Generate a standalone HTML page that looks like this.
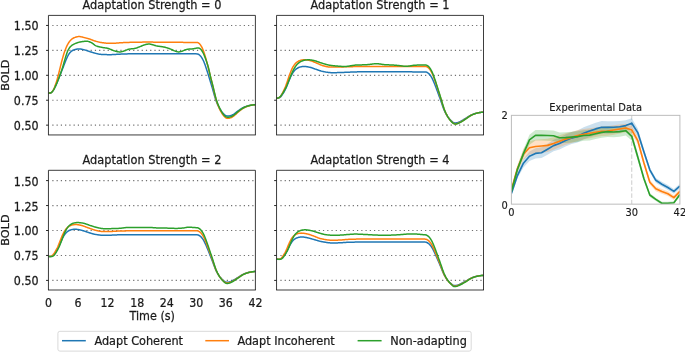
<!DOCTYPE html>
<html lang="en"><head><meta charset="utf-8"><title>BOLD adaptation figure</title>
<style>
html,body{margin:0;padding:0;background:#fff;}
body{width:685px;height:352px;overflow:hidden;}
svg{display:block;}
text{white-space:pre;stroke:#1a1a1a;stroke-width:0.25px;}
.inset text{stroke-width:0.15px;}
</style></head><body>
<svg width="685" height="352" viewBox="0 0 685 352" font-family='"DejaVu Sans", "Liberation Sans", sans-serif' font-size="11.35" fill="#1a1a1a">
<rect width="685" height="352" fill="#fff"/>
<clipPath id="c0"><rect x="48.45" y="15.4" width="206.95" height="119.5"/></clipPath>
<line x1="52.30" y1="125.15" x2="255.40" y2="125.15" stroke="#707070" stroke-width="1.15" stroke-dasharray="1.2 3.055"/>
<line x1="46.05" y1="125.15" x2="48.45" y2="125.15" stroke="#1a1a1a" stroke-width="0.95"/>
<text transform="translate(38.55 130.10) scale(0.9258 1)" font-size="12.0" text-anchor="end">0.50</text>
<line x1="52.30" y1="100.23" x2="255.40" y2="100.23" stroke="#707070" stroke-width="1.15" stroke-dasharray="1.2 3.055"/>
<line x1="46.05" y1="100.23" x2="48.45" y2="100.23" stroke="#1a1a1a" stroke-width="0.95"/>
<text transform="translate(38.55 105.18) scale(0.9258 1)" font-size="12.0" text-anchor="end">0.75</text>
<line x1="52.30" y1="75.30" x2="255.40" y2="75.30" stroke="#707070" stroke-width="1.15" stroke-dasharray="1.2 3.055"/>
<line x1="46.05" y1="75.30" x2="48.45" y2="75.30" stroke="#1a1a1a" stroke-width="0.95"/>
<text transform="translate(38.55 80.25) scale(0.9258 1)" font-size="12.0" text-anchor="end">1.00</text>
<line x1="52.30" y1="50.38" x2="255.40" y2="50.38" stroke="#707070" stroke-width="1.15" stroke-dasharray="1.2 3.055"/>
<line x1="46.05" y1="50.38" x2="48.45" y2="50.38" stroke="#1a1a1a" stroke-width="0.95"/>
<text transform="translate(38.55 55.33) scale(0.9258 1)" font-size="12.0" text-anchor="end">1.25</text>
<line x1="52.30" y1="25.45" x2="255.40" y2="25.45" stroke="#707070" stroke-width="1.15" stroke-dasharray="1.2 3.055"/>
<line x1="46.05" y1="25.45" x2="48.45" y2="25.45" stroke="#1a1a1a" stroke-width="0.95"/>
<text transform="translate(38.55 30.40) scale(0.9258 1)" font-size="12.0" text-anchor="end">1.50</text>
<g clip-path="url(#c0)" fill="none" stroke-width="1.5" stroke-linejoin="round" stroke-linecap="butt">
<path d="M48.45,93.15 L48.94,93.12 L49.44,93.09 L49.93,93.04 L50.42,92.95 L50.91,92.78 L51.41,92.50 L51.90,92.09 L52.39,91.54 L52.88,90.90 L53.38,90.16 L53.87,89.35 L54.36,88.46 L54.86,87.48 L55.35,86.44 L55.84,85.36 L56.33,84.24 L56.83,83.09 L57.32,81.90 L57.81,80.69 L58.30,79.45 L58.80,78.19 L59.29,76.94 L59.78,75.69 L60.28,74.45 L60.77,73.22 L61.26,72.00 L61.75,70.78 L62.25,69.55 L62.74,68.33 L63.23,67.10 L63.72,65.85 L64.22,64.59 L64.71,63.32 L65.20,62.05 L65.70,60.80 L66.19,59.58 L66.68,58.42 L67.17,57.31 L67.67,56.27 L68.16,55.31 L68.65,54.45 L69.15,53.71 L69.64,53.06 L70.13,52.48 L70.62,51.97 L71.12,51.51 L71.61,51.11 L72.10,50.76 L72.59,50.47 L73.09,50.23 L73.58,50.02 L74.07,49.85 L74.57,49.68 L75.06,49.54 L75.55,49.40 L76.04,49.28 L76.54,49.17 L77.03,49.08 L77.52,49.01 L78.01,48.95 L78.51,48.92 L79.00,48.91 L79.49,48.92 L79.99,48.96 L80.48,49.02 L80.97,49.09 L81.46,49.18 L81.96,49.29 L82.45,49.40 L82.94,49.52 L83.43,49.64 L83.93,49.76 L84.42,49.88 L84.91,50.01 L85.41,50.15 L85.90,50.29 L86.39,50.45 L86.88,50.61 L87.38,50.77 L87.87,50.94 L88.36,51.11 L88.85,51.28 L89.35,51.45 L89.84,51.61 L90.33,51.77 L90.83,51.92 L91.32,52.08 L91.81,52.23 L92.30,52.38 L92.80,52.54 L93.29,52.68 L93.78,52.83 L94.27,52.97 L94.77,53.11 L95.26,53.24 L95.75,53.36 L96.25,53.49 L96.74,53.61 L97.23,53.73 L97.72,53.85 L98.22,53.96 L98.71,54.07 L99.20,54.16 L99.69,54.24 L100.19,54.30 L100.68,54.35 L101.17,54.39 L101.67,54.42 L102.16,54.44 L102.65,54.47 L103.14,54.49 L103.64,54.51 L104.13,54.54 L104.62,54.55 L105.11,54.57 L105.61,54.59 L106.10,54.60 L106.59,54.62 L107.09,54.63 L107.58,54.64 L108.07,54.65 L108.56,54.65 L109.06,54.66 L109.55,54.66 L110.04,54.66 L110.53,54.65 L111.03,54.65 L111.52,54.63 L112.01,54.62 L112.51,54.60 L113.00,54.58 L113.49,54.55 L113.98,54.52 L114.48,54.49 L114.97,54.46 L115.46,54.43 L115.96,54.40 L116.45,54.36 L116.94,54.33 L117.43,54.30 L117.93,54.27 L118.42,54.24 L118.91,54.21 L119.40,54.19 L119.90,54.17 L120.39,54.14 L120.88,54.12 L121.38,54.10 L121.87,54.08 L122.36,54.06 L122.85,54.04 L123.35,54.02 L123.84,54.00 L124.33,53.99 L124.82,53.97 L125.32,53.95 L125.81,53.93 L126.30,53.91 L126.80,53.90 L127.29,53.88 L127.78,53.86 L128.27,53.85 L128.77,53.83 L129.26,53.82 L129.75,53.81 L130.24,53.80 L130.74,53.79 L131.23,53.78 L131.72,53.77 L132.22,53.77 L132.71,53.76 L133.20,53.75 L133.69,53.75 L134.19,53.74 L134.68,53.74 L135.17,53.73 L135.66,53.73 L136.16,53.72 L136.65,53.72 L137.14,53.71 L137.64,53.71 L138.13,53.71 L138.62,53.70 L139.11,53.70 L139.61,53.69 L140.10,53.69 L140.59,53.69 L141.08,53.68 L141.58,53.68 L142.07,53.68 L142.56,53.68 L143.06,53.67 L143.55,53.67 L144.04,53.67 L144.53,53.67 L145.03,53.67 L145.52,53.67 L146.01,53.67 L146.50,53.67 L147.00,53.67 L147.49,53.67 L147.98,53.67 L148.48,53.67 L148.97,53.67 L149.46,53.67 L149.95,53.67 L150.45,53.67 L150.94,53.67 L151.43,53.67 L151.93,53.67 L152.42,53.67 L152.91,53.67 L153.40,53.68 L153.90,53.68 L154.39,53.68 L154.88,53.68 L155.37,53.68 L155.87,53.69 L156.36,53.69 L156.85,53.69 L157.35,53.69 L157.84,53.69 L158.33,53.70 L158.82,53.70 L159.32,53.70 L159.81,53.70 L160.30,53.71 L160.79,53.71 L161.29,53.71 L161.78,53.71 L162.27,53.72 L162.77,53.72 L163.26,53.72 L163.75,53.72 L164.24,53.73 L164.74,53.73 L165.23,53.73 L165.72,53.73 L166.21,53.74 L166.71,53.74 L167.20,53.74 L167.69,53.75 L168.19,53.75 L168.68,53.75 L169.17,53.75 L169.66,53.76 L170.16,53.76 L170.65,53.76 L171.14,53.76 L171.63,53.76 L172.13,53.77 L172.62,53.77 L173.11,53.77 L173.61,53.77 L174.10,53.78 L174.59,53.78 L175.08,53.78 L175.58,53.79 L176.07,53.79 L176.56,53.79 L177.05,53.80 L177.55,53.80 L178.04,53.80 L178.53,53.81 L179.03,53.81 L179.52,53.81 L180.01,53.82 L180.50,53.82 L181.00,53.82 L181.49,53.83 L181.98,53.83 L182.47,53.83 L182.97,53.83 L183.46,53.84 L183.95,53.84 L184.45,53.84 L184.94,53.85 L185.43,53.85 L185.92,53.85 L186.42,53.85 L186.91,53.85 L187.40,53.86 L187.89,53.86 L188.39,53.86 L188.88,53.86 L189.37,53.86 L189.87,53.86 L190.36,53.86 L190.85,53.86 L191.34,53.86 L191.84,53.86 L192.33,53.86 L192.82,53.86 L193.31,53.86 L193.81,53.86 L194.30,53.86 L194.79,53.86 L195.29,53.86 L195.78,53.87 L196.27,53.87 L196.76,53.88 L197.26,53.92 L197.75,54.02 L198.24,54.19 L198.74,54.46 L199.23,54.80 L199.72,55.22 L200.21,55.69 L200.71,56.24 L201.20,56.87 L201.69,57.58 L202.18,58.38 L202.68,59.26 L203.17,60.23 L203.66,61.29 L204.16,62.47 L204.65,63.73 L205.14,65.08 L205.63,66.49 L206.13,67.93 L206.62,69.42 L207.11,70.95 L207.60,72.52 L208.10,74.11 L208.59,75.73 L209.08,77.35 L209.58,78.97 L210.07,80.59 L210.56,82.22 L211.05,83.85 L211.55,85.49 L212.04,87.14 L212.53,88.81 L213.02,90.52 L213.52,92.25 L214.01,94.00 L214.50,95.72 L215.00,97.39 L215.49,98.97 L215.98,100.43 L216.47,101.77 L216.97,103.00 L217.46,104.14 L217.95,105.21 L218.44,106.23 L218.94,107.18 L219.43,108.09 L219.92,108.94 L220.42,109.74 L220.91,110.50 L221.40,111.21 L221.89,111.89 L222.39,112.52 L222.88,113.10 L223.37,113.64 L223.86,114.13 L224.36,114.58 L224.85,114.98 L225.34,115.32 L225.84,115.59 L226.33,115.80 L226.82,115.96 L227.31,116.06 L227.81,116.10 L228.30,116.09 L228.79,116.04 L229.28,115.95 L229.78,115.84 L230.27,115.71 L230.76,115.55 L231.26,115.37 L231.75,115.16 L232.24,114.94 L232.73,114.69 L233.23,114.43 L233.72,114.13 L234.21,113.81 L234.70,113.47 L235.20,113.11 L235.69,112.73 L236.18,112.35 L236.68,111.97 L237.17,111.59 L237.66,111.22 L238.15,110.87 L238.65,110.52 L239.14,110.17 L239.63,109.83 L240.13,109.49 L240.62,109.15 L241.11,108.83 L241.60,108.52 L242.10,108.23 L242.59,107.95 L243.08,107.70 L243.57,107.46 L244.07,107.24 L244.56,107.03 L245.05,106.83 L245.55,106.63 L246.04,106.45 L246.53,106.28 L247.02,106.12 L247.52,105.98 L248.01,105.84 L248.50,105.71 L248.99,105.59 L249.49,105.48 L249.98,105.37 L250.47,105.28 L250.97,105.19 L251.46,105.10 L251.95,105.02 L252.44,104.95 L252.94,104.88 L253.43,104.82 L253.92,104.76 L254.41,104.71 L254.91,104.66 L255.40,104.61" stroke="#1f77b4"/>
<path d="M48.45,93.15 L48.94,93.12 L49.44,93.08 L49.93,93.02 L50.42,92.91 L50.91,92.72 L51.41,92.42 L51.90,91.97 L52.39,91.37 L52.88,90.64 L53.38,89.80 L53.87,88.82 L54.36,87.71 L54.86,86.47 L55.35,85.12 L55.84,83.68 L56.33,82.15 L56.83,80.54 L57.32,78.84 L57.81,77.05 L58.30,75.17 L58.80,73.21 L59.29,71.20 L59.78,69.18 L60.28,67.16 L60.77,65.17 L61.26,63.21 L61.75,61.30 L62.25,59.44 L62.74,57.66 L63.23,55.96 L63.72,54.34 L64.22,52.80 L64.71,51.34 L65.20,49.97 L65.70,48.68 L66.19,47.49 L66.68,46.39 L67.17,45.36 L67.67,44.41 L68.16,43.53 L68.65,42.74 L69.15,42.02 L69.64,41.37 L70.13,40.78 L70.62,40.24 L71.12,39.74 L71.61,39.29 L72.10,38.89 L72.59,38.55 L73.09,38.26 L73.58,38.01 L74.07,37.79 L74.57,37.58 L75.06,37.39 L75.55,37.21 L76.04,37.05 L76.54,36.91 L77.03,36.79 L77.52,36.69 L78.01,36.62 L78.51,36.57 L79.00,36.56 L79.49,36.57 L79.99,36.61 L80.48,36.67 L80.97,36.76 L81.46,36.86 L81.96,36.98 L82.45,37.10 L82.94,37.23 L83.43,37.36 L83.93,37.49 L84.42,37.61 L84.91,37.73 L85.41,37.86 L85.90,37.99 L86.39,38.12 L86.88,38.26 L87.38,38.40 L87.87,38.54 L88.36,38.69 L88.85,38.84 L89.35,39.00 L89.84,39.16 L90.33,39.33 L90.83,39.51 L91.32,39.70 L91.81,39.88 L92.30,40.07 L92.80,40.26 L93.29,40.44 L93.78,40.61 L94.27,40.78 L94.77,40.94 L95.26,41.09 L95.75,41.24 L96.25,41.38 L96.74,41.51 L97.23,41.64 L97.72,41.77 L98.22,41.89 L98.71,42.00 L99.20,42.11 L99.69,42.21 L100.19,42.31 L100.68,42.39 L101.17,42.48 L101.67,42.56 L102.16,42.64 L102.65,42.71 L103.14,42.79 L103.64,42.86 L104.13,42.93 L104.62,42.99 L105.11,43.04 L105.61,43.09 L106.10,43.13 L106.59,43.16 L107.09,43.18 L107.58,43.19 L108.07,43.19 L108.56,43.20 L109.06,43.20 L109.55,43.20 L110.04,43.20 L110.53,43.20 L111.03,43.20 L111.52,43.20 L112.01,43.20 L112.51,43.20 L113.00,43.20 L113.49,43.20 L113.98,43.20 L114.48,43.19 L114.97,43.19 L115.46,43.17 L115.96,43.15 L116.45,43.12 L116.94,43.08 L117.43,43.03 L117.93,42.98 L118.42,42.93 L118.91,42.88 L119.40,42.84 L119.90,42.80 L120.39,42.77 L120.88,42.74 L121.38,42.72 L121.87,42.69 L122.36,42.67 L122.85,42.64 L123.35,42.62 L123.84,42.59 L124.33,42.57 L124.82,42.55 L125.32,42.53 L125.81,42.50 L126.30,42.48 L126.80,42.46 L127.29,42.45 L127.78,42.43 L128.27,42.41 L128.77,42.39 L129.26,42.38 L129.75,42.36 L130.24,42.35 L130.74,42.33 L131.23,42.32 L131.72,42.31 L132.22,42.30 L132.71,42.29 L133.20,42.28 L133.69,42.27 L134.19,42.26 L134.68,42.25 L135.17,42.24 L135.66,42.23 L136.16,42.22 L136.65,42.21 L137.14,42.20 L137.64,42.19 L138.13,42.19 L138.62,42.18 L139.11,42.17 L139.61,42.16 L140.10,42.15 L140.59,42.15 L141.08,42.14 L141.58,42.14 L142.07,42.13 L142.56,42.12 L143.06,42.12 L143.55,42.12 L144.04,42.11 L144.53,42.11 L145.03,42.11 L145.52,42.10 L146.01,42.10 L146.50,42.10 L147.00,42.10 L147.49,42.10 L147.98,42.10 L148.48,42.10 L148.97,42.10 L149.46,42.10 L149.95,42.11 L150.45,42.11 L150.94,42.11 L151.43,42.11 L151.93,42.12 L152.42,42.12 L152.91,42.12 L153.40,42.13 L153.90,42.13 L154.39,42.13 L154.88,42.14 L155.37,42.14 L155.87,42.15 L156.36,42.15 L156.85,42.16 L157.35,42.16 L157.84,42.17 L158.33,42.17 L158.82,42.18 L159.32,42.18 L159.81,42.19 L160.30,42.19 L160.79,42.20 L161.29,42.20 L161.78,42.21 L162.27,42.21 L162.77,42.22 L163.26,42.22 L163.75,42.23 L164.24,42.23 L164.74,42.24 L165.23,42.24 L165.72,42.25 L166.21,42.25 L166.71,42.26 L167.20,42.26 L167.69,42.27 L168.19,42.27 L168.68,42.28 L169.17,42.28 L169.66,42.29 L170.16,42.29 L170.65,42.29 L171.14,42.30 L171.63,42.30 L172.13,42.30 L172.62,42.31 L173.11,42.31 L173.61,42.31 L174.10,42.32 L174.59,42.32 L175.08,42.32 L175.58,42.33 L176.07,42.33 L176.56,42.33 L177.05,42.34 L177.55,42.34 L178.04,42.34 L178.53,42.35 L179.03,42.35 L179.52,42.35 L180.01,42.36 L180.50,42.36 L181.00,42.36 L181.49,42.36 L181.98,42.37 L182.47,42.37 L182.97,42.37 L183.46,42.38 L183.95,42.38 L184.45,42.38 L184.94,42.38 L185.43,42.38 L185.92,42.39 L186.42,42.39 L186.91,42.39 L187.40,42.39 L187.89,42.39 L188.39,42.40 L188.88,42.40 L189.37,42.40 L189.87,42.40 L190.36,42.40 L190.85,42.40 L191.34,42.40 L191.84,42.40 L192.33,42.40 L192.82,42.40 L193.31,42.40 L193.81,42.40 L194.30,42.40 L194.79,42.40 L195.29,42.40 L195.78,42.40 L196.27,42.40 L196.76,42.42 L197.26,42.47 L197.75,42.59 L198.24,42.80 L198.74,43.12 L199.23,43.54 L199.72,44.05 L200.21,44.63 L200.71,45.30 L201.20,46.06 L201.69,46.94 L202.18,47.91 L202.68,48.99 L203.17,50.17 L203.66,51.47 L204.16,52.90 L204.65,54.45 L205.14,56.09 L205.63,57.81 L206.13,59.57 L206.62,61.39 L207.11,63.25 L207.60,65.17 L208.10,67.12 L208.59,69.09 L209.08,71.07 L209.58,73.05 L210.07,75.03 L210.56,77.01 L211.05,79.00 L211.55,81.00 L212.04,83.02 L212.53,85.06 L213.02,87.14 L213.52,89.26 L214.01,91.39 L214.50,93.50 L215.00,95.54 L215.49,97.46 L215.98,99.24 L216.47,100.88 L216.97,102.38 L217.46,103.77 L217.95,105.09 L218.44,106.32 L218.94,107.49 L219.43,108.60 L219.92,109.64 L220.42,110.62 L220.91,111.54 L221.40,112.41 L221.89,113.23 L222.39,114.00 L222.88,114.71 L223.37,115.37 L223.86,115.98 L224.36,116.53 L224.85,117.01 L225.34,117.43 L225.84,117.76 L226.33,118.01 L226.82,118.20 L227.31,118.32 L227.81,118.38 L228.30,118.37 L228.79,118.30 L229.28,118.20 L229.78,118.07 L230.27,117.91 L230.76,117.72 L231.26,117.50 L231.75,117.26 L232.24,116.99 L232.73,116.69 L233.23,116.37 L233.72,116.02 L234.21,115.64 L234.70,115.23 L235.20,114.79 L235.69,114.34 L236.18,113.88 L236.68,113.43 L237.17,112.97 L237.66,112.54 L238.15,112.11 L238.65,111.69 L239.14,111.27 L239.63,110.86 L240.13,110.45 L240.62,110.05 L241.11,109.66 L241.60,109.29 L242.10,108.94 L242.59,108.62 L243.08,108.31 L243.57,108.03 L244.07,107.76 L244.56,107.51 L245.05,107.26 L245.55,107.04 L246.04,106.82 L246.53,106.61 L247.02,106.42 L247.52,106.25 L248.01,106.08 L248.50,105.93 L248.99,105.78 L249.49,105.65 L249.98,105.53 L250.47,105.41 L250.97,105.30 L251.46,105.20 L251.95,105.10 L252.44,105.02 L252.94,104.94 L253.43,104.86 L253.92,104.79 L254.41,104.73 L254.91,104.67 L255.40,104.61" stroke="#ff7f0e"/>
<path d="M48.45,93.15 L48.94,93.12 L49.44,93.09 L49.93,93.04 L50.42,92.95 L50.91,92.78 L51.41,92.50 L51.90,92.09 L52.39,91.54 L52.88,90.90 L53.38,90.16 L53.87,89.35 L54.36,88.46 L54.86,87.48 L55.35,86.44 L55.84,85.36 L56.33,84.25 L56.83,83.11 L57.32,81.94 L57.81,80.74 L58.30,79.51 L58.80,78.26 L59.29,76.97 L59.78,75.67 L60.28,74.34 L60.77,72.98 L61.26,71.58 L61.75,70.12 L62.25,68.59 L62.74,66.98 L63.23,65.29 L63.72,63.55 L64.22,61.81 L64.71,60.08 L65.20,58.40 L65.70,56.77 L66.19,55.19 L66.68,53.68 L67.17,52.30 L67.67,51.06 L68.16,49.99 L68.65,49.08 L69.15,48.28 L69.64,47.58 L70.13,46.97 L70.62,46.43 L71.12,45.96 L71.61,45.56 L72.10,45.19 L72.59,44.87 L73.09,44.57 L73.58,44.30 L74.07,44.05 L74.57,43.82 L75.06,43.61 L75.55,43.40 L76.04,43.21 L76.54,43.02 L77.03,42.84 L77.52,42.67 L78.01,42.52 L78.51,42.37 L79.00,42.23 L79.49,42.11 L79.99,42.01 L80.48,41.91 L80.97,41.82 L81.46,41.74 L81.96,41.67 L82.45,41.59 L82.94,41.52 L83.43,41.46 L83.93,41.40 L84.42,41.35 L84.91,41.30 L85.41,41.27 L85.90,41.24 L86.39,41.23 L86.88,41.24 L87.38,41.28 L87.87,41.36 L88.36,41.47 L88.85,41.62 L89.35,41.79 L89.84,41.99 L90.33,42.21 L90.83,42.44 L91.32,42.68 L91.81,42.94 L92.30,43.24 L92.80,43.57 L93.29,43.94 L93.78,44.33 L94.27,44.72 L94.77,45.09 L95.26,45.42 L95.75,45.70 L96.25,45.93 L96.74,46.13 L97.23,46.29 L97.72,46.44 L98.22,46.58 L98.71,46.71 L99.20,46.82 L99.69,46.93 L100.19,47.04 L100.68,47.14 L101.17,47.24 L101.67,47.33 L102.16,47.42 L102.65,47.51 L103.14,47.59 L103.64,47.66 L104.13,47.73 L104.62,47.80 L105.11,47.87 L105.61,47.94 L106.10,48.02 L106.59,48.10 L107.09,48.20 L107.58,48.31 L108.07,48.43 L108.56,48.58 L109.06,48.75 L109.55,48.93 L110.04,49.13 L110.53,49.33 L111.03,49.55 L111.52,49.76 L112.01,49.98 L112.51,50.18 L113.00,50.38 L113.49,50.57 L113.98,50.73 L114.48,50.89 L114.97,51.03 L115.46,51.16 L115.96,51.29 L116.45,51.42 L116.94,51.54 L117.43,51.65 L117.93,51.74 L118.42,51.82 L118.91,51.88 L119.40,51.92 L119.90,51.93 L120.39,51.90 L120.88,51.84 L121.38,51.75 L121.87,51.64 L122.36,51.51 L122.85,51.37 L123.35,51.22 L123.84,51.06 L124.33,50.89 L124.82,50.70 L125.32,50.50 L125.81,50.29 L126.30,50.07 L126.80,49.86 L127.29,49.66 L127.78,49.49 L128.27,49.34 L128.77,49.21 L129.26,49.12 L129.75,49.04 L130.24,48.98 L130.74,48.92 L131.23,48.87 L131.72,48.83 L132.22,48.78 L132.71,48.73 L133.20,48.68 L133.69,48.62 L134.19,48.54 L134.68,48.46 L135.17,48.35 L135.66,48.23 L136.16,48.08 L136.65,47.92 L137.14,47.75 L137.64,47.56 L138.13,47.37 L138.62,47.17 L139.11,46.97 L139.61,46.78 L140.10,46.58 L140.59,46.39 L141.08,46.19 L141.58,45.98 L142.07,45.78 L142.56,45.57 L143.06,45.37 L143.55,45.18 L144.04,45.01 L144.53,44.85 L145.03,44.71 L145.52,44.58 L146.01,44.46 L146.50,44.35 L147.00,44.24 L147.49,44.16 L147.98,44.09 L148.48,44.05 L148.97,44.04 L149.46,44.06 L149.95,44.11 L150.45,44.19 L150.94,44.29 L151.43,44.41 L151.93,44.53 L152.42,44.67 L152.91,44.80 L153.40,44.95 L153.90,45.11 L154.39,45.27 L154.88,45.44 L155.37,45.59 L155.87,45.74 L156.36,45.86 L156.85,45.97 L157.35,46.06 L157.84,46.14 L158.33,46.21 L158.82,46.28 L159.32,46.34 L159.81,46.40 L160.30,46.46 L160.79,46.52 L161.29,46.58 L161.78,46.65 L162.27,46.73 L162.77,46.81 L163.26,46.90 L163.75,47.00 L164.24,47.10 L164.74,47.22 L165.23,47.34 L165.72,47.47 L166.21,47.61 L166.71,47.75 L167.20,47.90 L167.69,48.05 L168.19,48.21 L168.68,48.37 L169.17,48.54 L169.66,48.71 L170.16,48.90 L170.65,49.09 L171.14,49.31 L171.63,49.53 L172.13,49.77 L172.62,50.00 L173.11,50.23 L173.61,50.46 L174.10,50.67 L174.59,50.86 L175.08,51.05 L175.58,51.23 L176.07,51.40 L176.56,51.56 L177.05,51.70 L177.55,51.81 L178.04,51.88 L178.53,51.91 L179.03,51.89 L179.52,51.83 L180.01,51.74 L180.50,51.63 L181.00,51.50 L181.49,51.35 L181.98,51.18 L182.47,51.00 L182.97,50.80 L183.46,50.59 L183.95,50.38 L184.45,50.18 L184.94,49.99 L185.43,49.82 L185.92,49.66 L186.42,49.52 L186.91,49.39 L187.40,49.29 L187.89,49.21 L188.39,49.15 L188.88,49.11 L189.37,49.07 L189.87,49.05 L190.36,49.02 L190.85,49.00 L191.34,48.98 L191.84,48.95 L192.33,48.91 L192.82,48.85 L193.31,48.79 L193.81,48.70 L194.30,48.60 L194.79,48.49 L195.29,48.39 L195.78,48.29 L196.27,48.19 L196.76,48.11 L197.26,48.04 L197.75,47.99 L198.24,47.98 L198.74,48.03 L199.23,48.18 L199.72,48.45 L200.21,48.82 L200.71,49.28 L201.20,49.84 L201.69,50.49 L202.18,51.23 L202.68,52.07 L203.17,52.99 L203.66,54.01 L204.16,55.14 L204.65,56.35 L205.14,57.64 L205.63,58.98 L206.13,60.35 L206.62,61.75 L207.11,63.19 L207.60,64.71 L208.10,66.36 L208.59,68.22 L209.08,70.31 L209.58,72.58 L210.07,74.87 L210.56,77.04 L211.05,79.03 L211.55,80.88 L212.04,82.69 L212.53,84.55 L213.02,86.50 L213.52,88.54 L214.01,90.62 L214.50,92.70 L215.00,94.72 L215.49,96.64 L215.98,98.41 L216.47,100.03 L216.97,101.51 L217.46,102.89 L217.95,104.18 L218.44,105.40 L218.94,106.55 L219.43,107.64 L219.92,108.67 L220.42,109.63 L220.91,110.54 L221.40,111.40 L221.89,112.21 L222.39,112.97 L222.88,113.67 L223.37,114.32 L223.86,114.92 L224.36,115.46 L224.85,115.94 L225.34,116.34 L225.84,116.67 L226.33,116.92 L226.82,117.11 L227.31,117.23 L227.81,117.28 L228.30,117.28 L228.79,117.22 L229.28,117.13 L229.78,117.00 L230.27,116.86 L230.76,116.68 L231.26,116.48 L231.75,116.26 L232.24,116.01 L232.73,115.74 L233.23,115.44 L233.72,115.12 L234.21,114.77 L234.70,114.39 L235.20,113.99 L235.69,113.57 L236.18,113.15 L236.68,112.73 L237.17,112.31 L237.66,111.91 L238.15,111.51 L238.65,111.13 L239.14,110.75 L239.63,110.37 L240.13,109.99 L240.62,109.62 L241.11,109.27 L241.60,108.92 L242.10,108.60 L242.59,108.30 L243.08,108.02 L243.57,107.76 L244.07,107.51 L244.56,107.28 L245.05,107.05 L245.55,106.84 L246.04,106.64 L246.53,106.46 L247.02,106.28 L247.52,106.12 L248.01,105.97 L248.50,105.82 L248.99,105.69 L249.49,105.57 L249.98,105.45 L250.47,105.35 L250.97,105.24 L251.46,105.15 L251.95,105.07 L252.44,104.99 L252.94,104.91 L253.43,104.84 L253.92,104.78 L254.41,104.72 L254.91,104.66 L255.40,104.61" stroke="#2ca02c"/>
</g>
<path d="M48.45,134.95 V15.4 H255.39999999999998 V134.95 M48.03,134.95 H255.82" fill="none" stroke="#1a1a1a" stroke-width="0.85" stroke-linejoin="miter"/>
<text transform="translate(151.93 8.95) scale(0.9483 1)" font-size="12.0" text-anchor="middle">Adaptation Strength = 0</text>
<text transform="translate(8.75 75.15) rotate(-90)" text-anchor="middle" font-size="11.25">BOLD</text>
<clipPath id="c1"><rect x="276.55" y="15.4" width="206.95" height="119.5"/></clipPath>
<line x1="280.40" y1="125.15" x2="483.50" y2="125.15" stroke="#707070" stroke-width="1.15" stroke-dasharray="1.2 3.055"/>
<line x1="274.15" y1="125.15" x2="276.55" y2="125.15" stroke="#1a1a1a" stroke-width="0.95"/>
<line x1="280.40" y1="100.23" x2="483.50" y2="100.23" stroke="#707070" stroke-width="1.15" stroke-dasharray="1.2 3.055"/>
<line x1="274.15" y1="100.23" x2="276.55" y2="100.23" stroke="#1a1a1a" stroke-width="0.95"/>
<line x1="280.40" y1="75.30" x2="483.50" y2="75.30" stroke="#707070" stroke-width="1.15" stroke-dasharray="1.2 3.055"/>
<line x1="274.15" y1="75.30" x2="276.55" y2="75.30" stroke="#1a1a1a" stroke-width="0.95"/>
<line x1="280.40" y1="50.38" x2="483.50" y2="50.38" stroke="#707070" stroke-width="1.15" stroke-dasharray="1.2 3.055"/>
<line x1="274.15" y1="50.38" x2="276.55" y2="50.38" stroke="#1a1a1a" stroke-width="0.95"/>
<line x1="280.40" y1="25.45" x2="483.50" y2="25.45" stroke="#707070" stroke-width="1.15" stroke-dasharray="1.2 3.055"/>
<line x1="274.15" y1="25.45" x2="276.55" y2="25.45" stroke="#1a1a1a" stroke-width="0.95"/>
<g clip-path="url(#c1)" fill="none" stroke-width="1.5" stroke-linejoin="round" stroke-linecap="butt">
<path d="M276.55,98.23 L277.04,98.20 L277.54,98.17 L278.03,98.11 L278.52,98.03 L279.01,97.90 L279.51,97.69 L280.00,97.38 L280.49,96.96 L280.98,96.44 L281.48,95.85 L281.97,95.18 L282.46,94.45 L282.96,93.67 L283.45,92.85 L283.94,92.02 L284.43,91.15 L284.93,90.25 L285.42,89.29 L285.91,88.27 L286.40,87.16 L286.90,85.98 L287.39,84.76 L287.88,83.52 L288.38,82.27 L288.87,81.04 L289.36,79.82 L289.85,78.65 L290.35,77.53 L290.84,76.47 L291.33,75.48 L291.82,74.54 L292.32,73.66 L292.81,72.86 L293.30,72.12 L293.80,71.45 L294.29,70.83 L294.78,70.27 L295.27,69.78 L295.77,69.34 L296.26,68.95 L296.75,68.59 L297.25,68.28 L297.74,67.99 L298.23,67.74 L298.72,67.52 L299.22,67.32 L299.71,67.15 L300.20,67.00 L300.69,66.87 L301.19,66.76 L301.68,66.67 L302.17,66.60 L302.67,66.54 L303.16,66.49 L303.65,66.46 L304.14,66.45 L304.64,66.46 L305.13,66.49 L305.62,66.53 L306.11,66.58 L306.61,66.65 L307.10,66.73 L307.59,66.82 L308.09,66.91 L308.58,67.01 L309.07,67.12 L309.56,67.22 L310.06,67.34 L310.55,67.46 L311.04,67.59 L311.53,67.74 L312.03,67.90 L312.52,68.07 L313.01,68.24 L313.51,68.42 L314.00,68.61 L314.49,68.79 L314.98,68.97 L315.48,69.14 L315.97,69.31 L316.46,69.48 L316.95,69.65 L317.45,69.82 L317.94,70.00 L318.43,70.17 L318.93,70.34 L319.42,70.51 L319.91,70.67 L320.40,70.83 L320.90,70.99 L321.39,71.13 L321.88,71.26 L322.37,71.39 L322.87,71.50 L323.36,71.60 L323.85,71.70 L324.35,71.79 L324.84,71.87 L325.33,71.96 L325.82,72.05 L326.32,72.13 L326.81,72.21 L327.30,72.28 L327.79,72.35 L328.29,72.42 L328.78,72.48 L329.27,72.53 L329.77,72.58 L330.26,72.62 L330.75,72.65 L331.24,72.68 L331.74,72.69 L332.23,72.70 L332.72,72.70 L333.21,72.70 L333.71,72.70 L334.20,72.69 L334.69,72.68 L335.19,72.67 L335.68,72.66 L336.17,72.65 L336.66,72.63 L337.16,72.62 L337.65,72.60 L338.14,72.59 L338.63,72.57 L339.13,72.56 L339.62,72.54 L340.11,72.52 L340.61,72.51 L341.10,72.49 L341.59,72.47 L342.08,72.46 L342.58,72.44 L343.07,72.42 L343.56,72.40 L344.06,72.38 L344.55,72.35 L345.04,72.33 L345.53,72.31 L346.03,72.29 L346.52,72.27 L347.01,72.25 L347.50,72.23 L348.00,72.21 L348.49,72.19 L348.98,72.17 L349.48,72.15 L349.97,72.13 L350.46,72.11 L350.95,72.10 L351.45,72.08 L351.94,72.06 L352.43,72.04 L352.92,72.02 L353.42,72.00 L353.91,71.98 L354.40,71.96 L354.90,71.95 L355.39,71.93 L355.88,71.91 L356.37,71.90 L356.87,71.88 L357.36,71.87 L357.85,71.86 L358.34,71.85 L358.84,71.84 L359.33,71.83 L359.82,71.82 L360.32,71.81 L360.81,71.81 L361.30,71.80 L361.79,71.79 L362.29,71.79 L362.78,71.78 L363.27,71.78 L363.76,71.77 L364.26,71.77 L364.75,71.76 L365.24,71.76 L365.74,71.76 L366.23,71.75 L366.72,71.75 L367.21,71.74 L367.71,71.74 L368.20,71.74 L368.69,71.73 L369.18,71.73 L369.68,71.73 L370.17,71.72 L370.66,71.72 L371.16,71.72 L371.65,71.72 L372.14,71.72 L372.63,71.71 L373.13,71.71 L373.62,71.71 L374.11,71.71 L374.60,71.71 L375.10,71.71 L375.59,71.71 L376.08,71.71 L376.58,71.71 L377.07,71.71 L377.56,71.71 L378.05,71.71 L378.55,71.71 L379.04,71.72 L379.53,71.72 L380.02,71.72 L380.52,71.72 L381.01,71.72 L381.50,71.72 L382.00,71.72 L382.49,71.73 L382.98,71.73 L383.47,71.73 L383.97,71.73 L384.46,71.73 L384.95,71.74 L385.45,71.74 L385.94,71.74 L386.43,71.74 L386.92,71.75 L387.42,71.75 L387.91,71.75 L388.40,71.75 L388.89,71.76 L389.39,71.76 L389.88,71.76 L390.37,71.76 L390.87,71.77 L391.36,71.77 L391.85,71.77 L392.34,71.77 L392.84,71.78 L393.33,71.78 L393.82,71.78 L394.31,71.78 L394.81,71.79 L395.30,71.79 L395.79,71.79 L396.29,71.79 L396.78,71.80 L397.27,71.80 L397.76,71.80 L398.26,71.80 L398.75,71.81 L399.24,71.81 L399.73,71.81 L400.23,71.81 L400.72,71.81 L401.21,71.82 L401.71,71.82 L402.20,71.82 L402.69,71.82 L403.18,71.83 L403.68,71.83 L404.17,71.83 L404.66,71.83 L405.15,71.84 L405.65,71.84 L406.14,71.84 L406.63,71.84 L407.13,71.85 L407.62,71.85 L408.11,71.85 L408.60,71.85 L409.10,71.86 L409.59,71.86 L410.08,71.86 L410.57,71.87 L411.07,71.87 L411.56,71.87 L412.05,71.87 L412.55,71.88 L413.04,71.88 L413.53,71.88 L414.02,71.88 L414.52,71.88 L415.01,71.89 L415.50,71.89 L415.99,71.89 L416.49,71.89 L416.98,71.89 L417.47,71.90 L417.97,71.90 L418.46,71.90 L418.95,71.90 L419.44,71.90 L419.94,71.90 L420.43,71.91 L420.92,71.91 L421.41,71.91 L421.91,71.91 L422.40,71.91 L422.89,71.91 L423.39,71.91 L423.88,71.91 L424.37,71.91 L424.86,71.92 L425.36,71.94 L425.85,71.99 L426.34,72.10 L426.84,72.28 L427.33,72.54 L427.82,72.85 L428.31,73.23 L428.81,73.65 L429.30,74.14 L429.79,74.70 L430.28,75.33 L430.78,76.03 L431.27,76.80 L431.76,77.65 L432.26,78.58 L432.75,79.60 L433.24,80.70 L433.73,81.84 L434.23,83.03 L434.72,84.24 L435.21,85.50 L435.70,86.78 L436.20,88.10 L436.69,89.43 L437.18,90.77 L437.68,92.11 L438.17,93.46 L438.66,94.80 L439.15,96.15 L439.65,97.50 L440.14,98.86 L440.63,100.24 L441.12,101.65 L441.62,103.08 L442.11,104.52 L442.60,105.96 L443.10,107.35 L443.59,108.67 L444.08,109.90 L444.57,111.03 L445.07,112.06 L445.56,113.02 L446.05,113.92 L446.54,114.76 L447.04,115.56 L447.53,116.32 L448.02,117.03 L448.52,117.69 L449.01,118.32 L449.50,118.91 L449.99,119.46 L450.49,119.98 L450.98,120.47 L451.47,120.93 L451.96,121.36 L452.46,121.76 L452.95,122.12 L453.44,122.43 L453.94,122.68 L454.43,122.85 L454.92,122.94 L455.41,122.96 L455.91,122.92 L456.40,122.84 L456.89,122.74 L457.38,122.61 L457.88,122.46 L458.37,122.28 L458.86,122.09 L459.36,121.88 L459.85,121.66 L460.34,121.43 L460.83,121.18 L461.33,120.93 L461.82,120.67 L462.31,120.39 L462.81,120.10 L463.30,119.81 L463.79,119.51 L464.28,119.21 L464.78,118.91 L465.27,118.61 L465.76,118.31 L466.25,118.01 L466.75,117.70 L467.24,117.38 L467.73,117.07 L468.23,116.74 L468.72,116.42 L469.21,116.11 L469.70,115.81 L470.20,115.53 L470.69,115.26 L471.18,115.02 L471.67,114.79 L472.17,114.58 L472.66,114.38 L473.15,114.19 L473.65,114.01 L474.14,113.84 L474.63,113.67 L475.12,113.52 L475.62,113.38 L476.11,113.25 L476.60,113.13 L477.09,113.02 L477.59,112.91 L478.08,112.81 L478.57,112.72 L479.07,112.63 L479.56,112.55 L480.05,112.48 L480.54,112.41 L481.04,112.35 L481.53,112.29 L482.02,112.23 L482.51,112.18 L483.01,112.13 L483.50,112.09" stroke="#1f77b4"/>
<path d="M276.55,98.23 L277.04,98.19 L277.54,98.13 L278.03,98.03 L278.52,97.89 L279.01,97.66 L279.51,97.32 L280.00,96.85 L280.49,96.26 L280.98,95.58 L281.48,94.82 L281.97,93.97 L282.46,93.06 L282.96,92.10 L283.45,91.11 L283.94,90.09 L284.43,89.03 L284.93,87.93 L285.42,86.74 L285.91,85.46 L286.40,84.10 L286.90,82.66 L287.39,81.19 L287.88,79.70 L288.38,78.22 L288.87,76.75 L289.36,75.33 L289.85,73.95 L290.35,72.65 L290.84,71.42 L291.33,70.25 L291.82,69.16 L292.32,68.15 L292.81,67.22 L293.30,66.37 L293.80,65.58 L294.29,64.87 L294.78,64.22 L295.27,63.65 L295.77,63.14 L296.26,62.69 L296.75,62.28 L297.25,61.91 L297.74,61.58 L298.23,61.29 L298.72,61.03 L299.22,60.80 L299.71,60.59 L300.20,60.41 L300.69,60.26 L301.19,60.14 L301.68,60.03 L302.17,59.95 L302.67,59.88 L303.16,59.83 L303.65,59.79 L304.14,59.77 L304.64,59.78 L305.13,59.80 L305.62,59.83 L306.11,59.88 L306.61,59.94 L307.10,60.01 L307.59,60.09 L308.09,60.17 L308.58,60.26 L309.07,60.35 L309.56,60.45 L310.06,60.56 L310.55,60.68 L311.04,60.82 L311.53,60.98 L312.03,61.16 L312.52,61.35 L313.01,61.56 L313.51,61.77 L314.00,61.98 L314.49,62.20 L314.98,62.42 L315.48,62.63 L315.97,62.84 L316.46,63.04 L316.95,63.25 L317.45,63.47 L317.94,63.69 L318.43,63.91 L318.93,64.13 L319.42,64.35 L319.91,64.57 L320.40,64.78 L320.90,64.98 L321.39,65.17 L321.88,65.35 L322.37,65.52 L322.87,65.68 L323.36,65.82 L323.85,65.95 L324.35,66.08 L324.84,66.21 L325.33,66.33 L325.82,66.45 L326.32,66.56 L326.81,66.67 L327.30,66.76 L327.79,66.84 L328.29,66.91 L328.78,66.96 L329.27,66.99 L329.77,67.01 L330.26,67.02 L330.75,67.02 L331.24,67.02 L331.74,67.02 L332.23,67.02 L332.72,67.02 L333.21,67.02 L333.71,67.02 L334.20,67.02 L334.69,67.02 L335.19,67.02 L335.68,67.02 L336.17,67.02 L336.66,67.02 L337.16,67.02 L337.65,67.02 L338.14,67.02 L338.63,67.02 L339.13,67.01 L339.62,67.01 L340.11,67.00 L340.61,66.99 L341.10,66.97 L341.59,66.96 L342.08,66.94 L342.58,66.92 L343.07,66.90 L343.56,66.88 L344.06,66.86 L344.55,66.84 L345.04,66.82 L345.53,66.80 L346.03,66.79 L346.52,66.77 L347.01,66.75 L347.50,66.74 L348.00,66.73 L348.49,66.72 L348.98,66.71 L349.48,66.70 L349.97,66.69 L350.46,66.68 L350.95,66.67 L351.45,66.66 L351.94,66.65 L352.43,66.64 L352.92,66.63 L353.42,66.62 L353.91,66.61 L354.40,66.60 L354.90,66.60 L355.39,66.59 L355.88,66.58 L356.37,66.57 L356.87,66.57 L357.36,66.56 L357.85,66.55 L358.34,66.55 L358.84,66.54 L359.33,66.54 L359.82,66.53 L360.32,66.53 L360.81,66.52 L361.30,66.52 L361.79,66.51 L362.29,66.51 L362.78,66.50 L363.27,66.50 L363.76,66.49 L364.26,66.49 L364.75,66.48 L365.24,66.48 L365.74,66.48 L366.23,66.47 L366.72,66.47 L367.21,66.46 L367.71,66.46 L368.20,66.46 L368.69,66.45 L369.18,66.45 L369.68,66.45 L370.17,66.44 L370.66,66.44 L371.16,66.44 L371.65,66.43 L372.14,66.43 L372.63,66.43 L373.13,66.43 L373.62,66.43 L374.11,66.43 L374.60,66.43 L375.10,66.43 L375.59,66.43 L376.08,66.43 L376.58,66.43 L377.07,66.43 L377.56,66.43 L378.05,66.43 L378.55,66.43 L379.04,66.43 L379.53,66.43 L380.02,66.43 L380.52,66.43 L381.01,66.43 L381.50,66.43 L382.00,66.43 L382.49,66.43 L382.98,66.43 L383.47,66.43 L383.97,66.43 L384.46,66.43 L384.95,66.43 L385.45,66.43 L385.94,66.43 L386.43,66.43 L386.92,66.43 L387.42,66.43 L387.91,66.43 L388.40,66.43 L388.89,66.43 L389.39,66.43 L389.88,66.43 L390.37,66.43 L390.87,66.43 L391.36,66.43 L391.85,66.43 L392.34,66.43 L392.84,66.43 L393.33,66.43 L393.82,66.43 L394.31,66.43 L394.81,66.43 L395.30,66.43 L395.79,66.43 L396.29,66.43 L396.78,66.43 L397.27,66.43 L397.76,66.43 L398.26,66.43 L398.75,66.43 L399.24,66.43 L399.73,66.43 L400.23,66.43 L400.72,66.43 L401.21,66.43 L401.71,66.43 L402.20,66.43 L402.69,66.43 L403.18,66.43 L403.68,66.43 L404.17,66.43 L404.66,66.43 L405.15,66.43 L405.65,66.43 L406.14,66.43 L406.63,66.43 L407.13,66.43 L407.62,66.43 L408.11,66.43 L408.60,66.43 L409.10,66.43 L409.59,66.43 L410.08,66.43 L410.57,66.43 L411.07,66.43 L411.56,66.43 L412.05,66.43 L412.55,66.43 L413.04,66.43 L413.53,66.43 L414.02,66.43 L414.52,66.43 L415.01,66.43 L415.50,66.43 L415.99,66.43 L416.49,66.43 L416.98,66.43 L417.47,66.43 L417.97,66.43 L418.46,66.43 L418.95,66.43 L419.44,66.43 L419.94,66.43 L420.43,66.43 L420.92,66.43 L421.41,66.43 L421.91,66.43 L422.40,66.43 L422.89,66.43 L423.39,66.43 L423.88,66.43 L424.37,66.43 L424.86,66.43 L425.36,66.45 L425.85,66.50 L426.34,66.60 L426.84,66.78 L427.33,67.04 L427.82,67.38 L428.31,67.79 L428.81,68.25 L429.30,68.78 L429.79,69.39 L430.28,70.08 L430.78,70.86 L431.27,71.71 L431.76,72.64 L432.26,73.68 L432.75,74.81 L433.24,76.02 L433.73,77.31 L434.23,78.64 L434.72,80.00 L435.21,81.41 L435.70,82.86 L436.20,84.34 L436.69,85.85 L437.18,87.36 L437.68,88.88 L438.17,90.39 L438.66,91.91 L439.15,93.43 L439.65,94.96 L440.14,96.50 L440.63,98.06 L441.12,99.64 L441.62,101.25 L442.11,102.88 L442.60,104.51 L443.10,106.09 L443.59,107.60 L444.08,109.00 L444.57,110.28 L445.07,111.46 L445.56,112.55 L446.05,113.57 L446.54,114.54 L447.04,115.45 L447.53,116.30 L448.02,117.11 L448.52,117.87 L449.01,118.58 L449.50,119.25 L449.99,119.88 L450.49,120.47 L450.98,121.02 L451.47,121.54 L451.96,122.03 L452.46,122.49 L452.95,122.90 L453.44,123.25 L453.94,123.53 L454.43,123.72 L454.92,123.82 L455.41,123.85 L455.91,123.81 L456.40,123.72 L456.89,123.61 L457.38,123.47 L457.88,123.31 L458.37,123.12 L458.86,122.91 L459.36,122.68 L459.85,122.44 L460.34,122.19 L460.83,121.93 L461.33,121.65 L461.82,121.37 L462.31,121.07 L462.81,120.76 L463.30,120.44 L463.79,120.12 L464.28,119.80 L464.78,119.47 L465.27,119.14 L465.76,118.82 L466.25,118.49 L466.75,118.16 L467.24,117.82 L467.73,117.47 L468.23,117.12 L468.72,116.78 L469.21,116.44 L469.70,116.12 L470.20,115.81 L470.69,115.52 L471.18,115.26 L471.67,115.01 L472.17,114.78 L472.66,114.57 L473.15,114.36 L473.65,114.16 L474.14,113.98 L474.63,113.80 L475.12,113.64 L475.62,113.49 L476.11,113.35 L476.60,113.22 L477.09,113.09 L477.59,112.98 L478.08,112.87 L478.57,112.77 L479.07,112.68 L479.56,112.59 L480.05,112.51 L480.54,112.44 L481.04,112.37 L481.53,112.30 L482.02,112.24 L482.51,112.19 L483.01,112.14 L483.50,112.09" stroke="#ff7f0e"/>
<path d="M276.55,98.23 L277.04,98.17 L277.54,98.09 L278.03,97.98 L278.52,97.81 L279.01,97.57 L279.51,97.23 L280.00,96.80 L280.49,96.29 L280.98,95.72 L281.48,95.09 L281.97,94.39 L282.46,93.64 L282.96,92.84 L283.45,92.01 L283.94,91.17 L284.43,90.31 L284.93,89.43 L285.42,88.52 L285.91,87.56 L286.40,86.54 L286.90,85.44 L287.39,84.27 L287.88,83.05 L288.38,81.80 L288.87,80.54 L289.36,79.27 L289.85,78.01 L290.35,76.76 L290.84,75.53 L291.33,74.35 L291.82,73.22 L292.32,72.14 L292.81,71.11 L293.30,70.13 L293.80,69.20 L294.29,68.33 L294.78,67.52 L295.27,66.77 L295.77,66.07 L296.26,65.42 L296.75,64.82 L297.25,64.27 L297.74,63.77 L298.23,63.33 L298.72,62.92 L299.22,62.56 L299.71,62.22 L300.20,61.91 L300.69,61.62 L301.19,61.36 L301.68,61.13 L302.17,60.92 L302.67,60.74 L303.16,60.57 L303.65,60.42 L304.14,60.29 L304.64,60.17 L305.13,60.08 L305.62,60.00 L306.11,59.93 L306.61,59.87 L307.10,59.82 L307.59,59.79 L308.09,59.77 L308.58,59.77 L309.07,59.79 L309.56,59.82 L310.06,59.87 L310.55,59.93 L311.04,60.00 L311.53,60.08 L312.03,60.16 L312.52,60.26 L313.01,60.35 L313.51,60.45 L314.00,60.56 L314.49,60.67 L314.98,60.80 L315.48,60.94 L315.97,61.09 L316.46,61.25 L316.95,61.43 L317.45,61.61 L317.94,61.79 L318.43,61.97 L318.93,62.16 L319.42,62.33 L319.91,62.51 L320.40,62.67 L320.90,62.83 L321.39,62.99 L321.88,63.14 L322.37,63.29 L322.87,63.44 L323.36,63.60 L323.85,63.75 L324.35,63.90 L324.84,64.05 L325.33,64.19 L325.82,64.33 L326.32,64.47 L326.81,64.60 L327.30,64.72 L327.79,64.84 L328.29,64.95 L328.78,65.05 L329.27,65.14 L329.77,65.22 L330.26,65.30 L330.75,65.37 L331.24,65.44 L331.74,65.50 L332.23,65.56 L332.72,65.62 L333.21,65.68 L333.71,65.73 L334.20,65.78 L334.69,65.83 L335.19,65.88 L335.68,65.92 L336.17,65.97 L336.66,66.01 L337.16,66.05 L337.65,66.09 L338.14,66.13 L338.63,66.17 L339.13,66.20 L339.62,66.24 L340.11,66.28 L340.61,66.32 L341.10,66.35 L341.59,66.39 L342.08,66.42 L342.58,66.45 L343.07,66.47 L343.56,66.49 L344.06,66.51 L344.55,66.51 L345.04,66.51 L345.53,66.49 L346.03,66.46 L346.52,66.42 L347.01,66.36 L347.50,66.30 L348.00,66.22 L348.49,66.14 L348.98,66.06 L349.48,65.98 L349.97,65.90 L350.46,65.83 L350.95,65.76 L351.45,65.68 L351.94,65.61 L352.43,65.53 L352.92,65.45 L353.42,65.37 L353.91,65.30 L354.40,65.23 L354.90,65.17 L355.39,65.12 L355.88,65.08 L356.37,65.04 L356.87,65.01 L357.36,64.99 L357.85,64.97 L358.34,64.96 L358.84,64.94 L359.33,64.93 L359.82,64.92 L360.32,64.91 L360.81,64.90 L361.30,64.89 L361.79,64.88 L362.29,64.87 L362.78,64.86 L363.27,64.84 L363.76,64.83 L364.26,64.81 L364.75,64.79 L365.24,64.77 L365.74,64.74 L366.23,64.71 L366.72,64.67 L367.21,64.63 L367.71,64.59 L368.20,64.54 L368.69,64.49 L369.18,64.44 L369.68,64.39 L370.17,64.34 L370.66,64.28 L371.16,64.23 L371.65,64.16 L372.14,64.10 L372.63,64.03 L373.13,63.95 L373.62,63.88 L374.11,63.81 L374.60,63.75 L375.10,63.70 L375.59,63.67 L376.08,63.66 L376.58,63.67 L377.07,63.69 L377.56,63.73 L378.05,63.78 L378.55,63.84 L379.04,63.91 L379.53,63.97 L380.02,64.04 L380.52,64.11 L381.01,64.19 L381.50,64.27 L382.00,64.35 L382.49,64.43 L382.98,64.50 L383.47,64.57 L383.97,64.62 L384.46,64.66 L384.95,64.69 L385.45,64.72 L385.94,64.75 L386.43,64.77 L386.92,64.79 L387.42,64.81 L387.91,64.83 L388.40,64.85 L388.89,64.86 L389.39,64.88 L389.88,64.90 L390.37,64.92 L390.87,64.94 L391.36,64.96 L391.85,64.98 L392.34,65.01 L392.84,65.03 L393.33,65.07 L393.82,65.10 L394.31,65.13 L394.81,65.17 L395.30,65.21 L395.79,65.25 L396.29,65.30 L396.78,65.34 L397.27,65.39 L397.76,65.44 L398.26,65.48 L398.75,65.53 L399.24,65.58 L399.73,65.63 L400.23,65.69 L400.72,65.75 L401.21,65.82 L401.71,65.89 L402.20,65.96 L402.69,66.03 L403.18,66.10 L403.68,66.16 L404.17,66.21 L404.66,66.26 L405.15,66.29 L405.65,66.30 L406.14,66.30 L406.63,66.29 L407.13,66.26 L407.62,66.21 L408.11,66.16 L408.60,66.10 L409.10,66.03 L409.59,65.96 L410.08,65.89 L410.57,65.82 L411.07,65.75 L411.56,65.67 L412.05,65.59 L412.55,65.50 L413.04,65.42 L413.53,65.35 L414.02,65.29 L414.52,65.25 L415.01,65.21 L415.50,65.18 L415.99,65.15 L416.49,65.13 L416.98,65.11 L417.47,65.09 L417.97,65.07 L418.46,65.06 L418.95,65.04 L419.44,65.03 L419.94,65.02 L420.43,65.01 L420.92,65.00 L421.41,64.98 L421.91,64.97 L422.40,64.96 L422.89,64.96 L423.39,64.95 L423.88,64.94 L424.37,64.94 L424.86,64.94 L425.36,64.95 L425.85,65.00 L426.34,65.11 L426.84,65.29 L427.33,65.57 L427.82,65.92 L428.31,66.33 L428.81,66.81 L429.30,67.35 L429.79,67.98 L430.28,68.70 L430.78,69.49 L431.27,70.37 L431.76,71.33 L432.26,72.39 L432.75,73.56 L433.24,74.81 L433.73,76.13 L434.23,77.50 L434.72,78.91 L435.21,80.36 L435.70,81.85 L436.20,83.37 L436.69,84.92 L437.18,86.48 L437.68,88.04 L438.17,89.60 L438.66,91.17 L439.15,92.73 L439.65,94.31 L440.14,95.89 L440.63,97.49 L441.12,99.12 L441.62,100.78 L442.11,102.46 L442.60,104.13 L443.10,105.76 L443.59,107.31 L444.08,108.76 L444.57,110.08 L445.07,111.29 L445.56,112.42 L446.05,113.47 L446.54,114.46 L447.04,115.39 L447.53,116.28 L448.02,117.11 L448.52,117.89 L449.01,118.62 L449.50,119.31 L449.99,119.96 L450.49,120.56 L450.98,121.13 L451.47,121.67 L451.96,122.17 L452.46,122.64 L452.95,123.07 L453.44,123.43 L453.94,123.71 L454.43,123.91 L454.92,124.02 L455.41,124.04 L455.91,124.00 L456.40,123.92 L456.89,123.80 L457.38,123.66 L457.88,123.49 L458.37,123.30 L458.86,123.09 L459.36,122.86 L459.85,122.61 L460.34,122.36 L460.83,122.09 L461.33,121.82 L461.82,121.52 L462.31,121.22 L462.81,120.91 L463.30,120.58 L463.79,120.26 L464.28,119.93 L464.78,119.59 L465.27,119.26 L465.76,118.93 L466.25,118.60 L466.75,118.26 L467.24,117.91 L467.73,117.56 L468.23,117.21 L468.72,116.86 L469.21,116.51 L469.70,116.18 L470.20,115.87 L470.69,115.58 L471.18,115.31 L471.67,115.06 L472.17,114.83 L472.66,114.61 L473.15,114.40 L473.65,114.20 L474.14,114.01 L474.63,113.83 L475.12,113.67 L475.62,113.51 L476.11,113.37 L476.60,113.24 L477.09,113.11 L477.59,112.99 L478.08,112.88 L478.57,112.78 L479.07,112.69 L479.56,112.60 L480.05,112.52 L480.54,112.44 L481.04,112.37 L481.53,112.31 L482.02,112.24 L482.51,112.19 L483.01,112.14 L483.50,112.09" stroke="#2ca02c"/>
</g>
<path d="M276.55,134.95 V15.4 H483.5 V134.95 M276.13,134.95 H483.92" fill="none" stroke="#1a1a1a" stroke-width="0.85" stroke-linejoin="miter"/>
<text transform="translate(380.02 8.95) scale(0.9483 1)" font-size="12.0" text-anchor="middle">Adaptation Strength = 1</text>
<clipPath id="c2"><rect x="48.45" y="170.3" width="206.95" height="119.5"/></clipPath>
<line x1="52.30" y1="280.40" x2="255.40" y2="280.40" stroke="#707070" stroke-width="1.15" stroke-dasharray="1.2 3.055"/>
<line x1="46.05" y1="280.40" x2="48.45" y2="280.40" stroke="#1a1a1a" stroke-width="0.95"/>
<text transform="translate(38.55 285.35) scale(0.9258 1)" font-size="12.0" text-anchor="end">0.50</text>
<line x1="52.30" y1="255.45" x2="255.40" y2="255.45" stroke="#707070" stroke-width="1.15" stroke-dasharray="1.2 3.055"/>
<line x1="46.05" y1="255.45" x2="48.45" y2="255.45" stroke="#1a1a1a" stroke-width="0.95"/>
<text transform="translate(38.55 260.40) scale(0.9258 1)" font-size="12.0" text-anchor="end">0.75</text>
<line x1="52.30" y1="230.50" x2="255.40" y2="230.50" stroke="#707070" stroke-width="1.15" stroke-dasharray="1.2 3.055"/>
<line x1="46.05" y1="230.50" x2="48.45" y2="230.50" stroke="#1a1a1a" stroke-width="0.95"/>
<text transform="translate(38.55 235.45) scale(0.9258 1)" font-size="12.0" text-anchor="end">1.00</text>
<line x1="52.30" y1="205.55" x2="255.40" y2="205.55" stroke="#707070" stroke-width="1.15" stroke-dasharray="1.2 3.055"/>
<line x1="46.05" y1="205.55" x2="48.45" y2="205.55" stroke="#1a1a1a" stroke-width="0.95"/>
<text transform="translate(38.55 210.50) scale(0.9258 1)" font-size="12.0" text-anchor="end">1.25</text>
<line x1="52.30" y1="180.60" x2="255.40" y2="180.60" stroke="#707070" stroke-width="1.15" stroke-dasharray="1.2 3.055"/>
<line x1="46.05" y1="180.60" x2="48.45" y2="180.60" stroke="#1a1a1a" stroke-width="0.95"/>
<text transform="translate(38.55 185.55) scale(0.9258 1)" font-size="12.0" text-anchor="end">1.50</text>
<g clip-path="url(#c2)" fill="none" stroke-width="1.5" stroke-linejoin="round" stroke-linecap="butt">
<path d="M48.45,256.25 L48.94,256.40 L49.44,256.51 L49.93,256.56 L50.42,256.54 L50.91,256.47 L51.41,256.34 L51.90,256.15 L52.39,255.88 L52.88,255.50 L53.38,255.03 L53.87,254.48 L54.36,253.87 L54.86,253.20 L55.35,252.50 L55.84,251.75 L56.33,250.98 L56.83,250.19 L57.32,249.35 L57.81,248.46 L58.30,247.50 L58.80,246.47 L59.29,245.37 L59.78,244.24 L60.28,243.10 L60.77,241.97 L61.26,240.85 L61.75,239.76 L62.25,238.73 L62.74,237.76 L63.23,236.84 L63.72,235.99 L64.22,235.20 L64.71,234.48 L65.20,233.82 L65.70,233.23 L66.19,232.69 L66.68,232.21 L67.17,231.79 L67.67,231.42 L68.16,231.09 L68.65,230.79 L69.15,230.53 L69.64,230.30 L70.13,230.10 L70.62,229.92 L71.12,229.77 L71.61,229.64 L72.10,229.53 L72.59,229.44 L73.09,229.37 L73.58,229.31 L74.07,229.27 L74.57,229.24 L75.06,229.23 L75.55,229.24 L76.04,229.27 L76.54,229.31 L77.03,229.37 L77.52,229.44 L78.01,229.52 L78.51,229.61 L79.00,229.71 L79.49,229.80 L79.99,229.90 L80.48,230.01 L80.97,230.12 L81.46,230.24 L81.96,230.37 L82.45,230.51 L82.94,230.66 L83.43,230.81 L83.93,230.98 L84.42,231.14 L84.91,231.31 L85.41,231.48 L85.90,231.65 L86.39,231.82 L86.88,231.98 L87.38,232.14 L87.87,232.29 L88.36,232.45 L88.85,232.60 L89.35,232.76 L89.84,232.92 L90.33,233.07 L90.83,233.23 L91.32,233.39 L91.81,233.54 L92.30,233.68 L92.80,233.82 L93.29,233.95 L93.78,234.08 L94.27,234.19 L94.77,234.29 L95.26,234.38 L95.75,234.47 L96.25,234.55 L96.74,234.63 L97.23,234.71 L97.72,234.79 L98.22,234.86 L98.71,234.93 L99.20,235.00 L99.69,235.06 L100.19,235.11 L100.68,235.16 L101.17,235.20 L101.67,235.23 L102.16,235.26 L102.65,235.27 L103.14,235.28 L103.64,235.29 L104.13,235.29 L104.62,235.28 L105.11,235.28 L105.61,235.27 L106.10,235.27 L106.59,235.26 L107.09,235.25 L107.58,235.24 L108.07,235.23 L108.56,235.22 L109.06,235.21 L109.55,235.20 L110.04,235.19 L110.53,235.18 L111.03,235.16 L111.52,235.14 L112.01,235.12 L112.51,235.10 L113.00,235.08 L113.49,235.06 L113.98,235.03 L114.48,235.01 L114.97,234.98 L115.46,234.96 L115.96,234.93 L116.45,234.91 L116.94,234.89 L117.43,234.87 L117.93,234.85 L118.42,234.83 L118.91,234.82 L119.40,234.80 L119.90,234.79 L120.39,234.79 L120.88,234.78 L121.38,234.77 L121.87,234.77 L122.36,234.76 L122.85,234.75 L123.35,234.75 L123.84,234.74 L124.33,234.74 L124.82,234.73 L125.32,234.73 L125.81,234.72 L126.30,234.72 L126.80,234.71 L127.29,234.71 L127.78,234.71 L128.27,234.70 L128.77,234.70 L129.26,234.70 L129.75,234.70 L130.24,234.70 L130.74,234.69 L131.23,234.69 L131.72,234.69 L132.22,234.69 L132.71,234.69 L133.20,234.69 L133.69,234.69 L134.19,234.69 L134.68,234.69 L135.17,234.69 L135.66,234.69 L136.16,234.69 L136.65,234.69 L137.14,234.69 L137.64,234.69 L138.13,234.69 L138.62,234.69 L139.11,234.69 L139.61,234.69 L140.10,234.69 L140.59,234.69 L141.08,234.69 L141.58,234.69 L142.07,234.69 L142.56,234.69 L143.06,234.69 L143.55,234.69 L144.04,234.69 L144.53,234.69 L145.03,234.69 L145.52,234.69 L146.01,234.69 L146.50,234.69 L147.00,234.69 L147.49,234.69 L147.98,234.69 L148.48,234.69 L148.97,234.69 L149.46,234.69 L149.95,234.70 L150.45,234.70 L150.94,234.70 L151.43,234.70 L151.93,234.70 L152.42,234.70 L152.91,234.71 L153.40,234.71 L153.90,234.71 L154.39,234.71 L154.88,234.72 L155.37,234.72 L155.87,234.72 L156.36,234.72 L156.85,234.73 L157.35,234.73 L157.84,234.73 L158.33,234.74 L158.82,234.74 L159.32,234.74 L159.81,234.74 L160.30,234.75 L160.79,234.75 L161.29,234.75 L161.78,234.76 L162.27,234.76 L162.77,234.76 L163.26,234.76 L163.75,234.77 L164.24,234.77 L164.74,234.77 L165.23,234.77 L165.72,234.78 L166.21,234.78 L166.71,234.78 L167.20,234.78 L167.69,234.78 L168.19,234.79 L168.68,234.79 L169.17,234.79 L169.66,234.79 L170.16,234.79 L170.65,234.79 L171.14,234.79 L171.63,234.79 L172.13,234.79 L172.62,234.79 L173.11,234.79 L173.61,234.79 L174.10,234.79 L174.59,234.79 L175.08,234.79 L175.58,234.79 L176.07,234.79 L176.56,234.79 L177.05,234.79 L177.55,234.79 L178.04,234.79 L178.53,234.79 L179.03,234.79 L179.52,234.79 L180.01,234.79 L180.50,234.79 L181.00,234.79 L181.49,234.79 L181.98,234.79 L182.47,234.79 L182.97,234.79 L183.46,234.79 L183.95,234.79 L184.45,234.79 L184.94,234.79 L185.43,234.79 L185.92,234.79 L186.42,234.79 L186.91,234.79 L187.40,234.79 L187.89,234.79 L188.39,234.79 L188.88,234.79 L189.37,234.79 L189.87,234.79 L190.36,234.79 L190.85,234.79 L191.34,234.79 L191.84,234.79 L192.33,234.79 L192.82,234.79 L193.31,234.79 L193.81,234.79 L194.30,234.79 L194.79,234.79 L195.29,234.79 L195.78,234.79 L196.27,234.79 L196.76,234.80 L197.26,234.84 L197.75,234.91 L198.24,235.04 L198.74,235.24 L199.23,235.51 L199.72,235.82 L200.21,236.19 L200.71,236.61 L201.20,237.08 L201.69,237.63 L202.18,238.24 L202.68,238.91 L203.17,239.65 L203.66,240.47 L204.16,241.36 L204.65,242.33 L205.14,243.36 L205.63,244.43 L206.13,245.54 L206.62,246.67 L207.11,247.84 L207.60,249.04 L208.10,250.26 L208.59,251.50 L209.08,252.73 L209.58,253.97 L210.07,255.21 L210.56,256.45 L211.05,257.70 L211.55,258.95 L212.04,260.21 L212.53,261.49 L213.02,262.79 L213.52,264.12 L214.01,265.45 L214.50,266.77 L215.00,268.05 L215.49,269.25 L215.98,270.36 L216.47,271.39 L216.97,272.33 L217.46,273.20 L217.95,274.02 L218.44,274.80 L218.94,275.53 L219.43,276.22 L219.92,276.87 L220.42,277.48 L220.91,278.05 L221.40,278.60 L221.89,279.10 L222.39,279.58 L222.88,280.03 L223.37,280.45 L223.86,280.84 L224.36,281.21 L224.85,281.54 L225.34,281.82 L225.84,282.05 L226.33,282.20 L226.82,282.29 L227.31,282.30 L227.81,282.26 L228.30,282.18 L228.79,282.08 L229.28,281.95 L229.78,281.80 L230.27,281.62 L230.76,281.43 L231.26,281.22 L231.75,281.00 L232.24,280.76 L232.73,280.52 L233.23,280.27 L233.72,280.00 L234.21,279.73 L234.70,279.44 L235.20,279.15 L235.69,278.85 L236.18,278.55 L236.68,278.25 L237.17,277.95 L237.66,277.64 L238.15,277.34 L238.65,277.03 L239.14,276.72 L239.63,276.40 L240.13,276.08 L240.62,275.76 L241.11,275.44 L241.60,275.14 L242.10,274.86 L242.59,274.60 L243.08,274.35 L243.57,274.12 L244.07,273.91 L244.56,273.71 L245.05,273.52 L245.55,273.34 L246.04,273.17 L246.53,273.00 L247.02,272.85 L247.52,272.71 L248.01,272.58 L248.50,272.46 L248.99,272.35 L249.49,272.24 L249.98,272.14 L250.47,272.05 L250.97,271.96 L251.46,271.88 L251.95,271.81 L252.44,271.74 L252.94,271.68 L253.43,271.62 L253.92,271.56 L254.41,271.51 L254.91,271.46 L255.40,271.42" stroke="#1f77b4"/>
<path d="M48.45,256.25 L48.94,256.40 L49.44,256.50 L49.93,256.52 L50.42,256.46 L50.91,256.34 L51.41,256.14 L51.90,255.85 L52.39,255.45 L52.88,254.94 L53.38,254.35 L53.87,253.68 L54.36,252.96 L54.86,252.17 L55.35,251.35 L55.84,250.49 L56.33,249.61 L56.83,248.70 L57.32,247.73 L57.81,246.70 L58.30,245.58 L58.80,244.39 L59.29,243.14 L59.78,241.86 L60.28,240.57 L60.77,239.28 L61.26,238.02 L61.75,236.80 L62.25,235.64 L62.74,234.54 L63.23,233.51 L63.72,232.54 L64.22,231.65 L64.71,230.82 L65.20,230.07 L65.70,229.38 L66.19,228.76 L66.68,228.20 L67.17,227.70 L67.67,227.26 L68.16,226.88 L68.65,226.53 L69.15,226.22 L69.64,225.94 L70.13,225.69 L70.62,225.48 L71.12,225.29 L71.61,225.13 L72.10,224.99 L72.59,224.87 L73.09,224.77 L73.58,224.69 L74.07,224.63 L74.57,224.58 L75.06,224.55 L75.55,224.54 L76.04,224.55 L76.54,224.57 L77.03,224.62 L77.52,224.68 L78.01,224.75 L78.51,224.83 L79.00,224.92 L79.49,225.01 L79.99,225.11 L80.48,225.21 L80.97,225.32 L81.46,225.44 L81.96,225.57 L82.45,225.71 L82.94,225.87 L83.43,226.03 L83.93,226.21 L84.42,226.39 L84.91,226.58 L85.41,226.77 L85.90,226.97 L86.39,227.16 L86.88,227.34 L87.38,227.52 L87.87,227.70 L88.36,227.88 L88.85,228.06 L89.35,228.24 L89.84,228.42 L90.33,228.60 L90.83,228.78 L91.32,228.96 L91.81,229.14 L92.30,229.31 L92.80,229.48 L93.29,229.64 L93.78,229.79 L94.27,229.93 L94.77,230.07 L95.26,230.19 L95.75,230.32 L96.25,230.44 L96.74,230.56 L97.23,230.68 L97.72,230.79 L98.22,230.91 L98.71,231.02 L99.20,231.12 L99.69,231.22 L100.19,231.30 L100.68,231.38 L101.17,231.45 L101.67,231.50 L102.16,231.54 L102.65,231.57 L103.14,231.59 L103.64,231.59 L104.13,231.59 L104.62,231.59 L105.11,231.59 L105.61,231.58 L106.10,231.57 L106.59,231.57 L107.09,231.56 L107.58,231.55 L108.07,231.54 L108.56,231.53 L109.06,231.52 L109.55,231.51 L110.04,231.50 L110.53,231.48 L111.03,231.46 L111.52,231.45 L112.01,231.42 L112.51,231.40 L113.00,231.37 L113.49,231.34 L113.98,231.31 L114.48,231.28 L114.97,231.25 L115.46,231.22 L115.96,231.19 L116.45,231.16 L116.94,231.13 L117.43,231.10 L117.93,231.08 L118.42,231.06 L118.91,231.03 L119.40,231.02 L119.90,231.00 L120.39,230.99 L120.88,230.98 L121.38,230.96 L121.87,230.95 L122.36,230.94 L122.85,230.93 L123.35,230.92 L123.84,230.91 L124.33,230.90 L124.82,230.90 L125.32,230.89 L125.81,230.88 L126.30,230.87 L126.80,230.86 L127.29,230.86 L127.78,230.85 L128.27,230.84 L128.77,230.84 L129.26,230.83 L129.75,230.83 L130.24,230.82 L130.74,230.81 L131.23,230.81 L131.72,230.80 L132.22,230.80 L132.71,230.79 L133.20,230.79 L133.69,230.79 L134.19,230.78 L134.68,230.78 L135.17,230.77 L135.66,230.77 L136.16,230.76 L136.65,230.76 L137.14,230.75 L137.64,230.75 L138.13,230.74 L138.62,230.74 L139.11,230.74 L139.61,230.73 L140.10,230.73 L140.59,230.72 L141.08,230.72 L141.58,230.72 L142.07,230.72 L142.56,230.71 L143.06,230.71 L143.55,230.71 L144.04,230.71 L144.53,230.70 L145.03,230.70 L145.52,230.70 L146.01,230.70 L146.50,230.70 L147.00,230.70 L147.49,230.70 L147.98,230.70 L148.48,230.70 L148.97,230.70 L149.46,230.70 L149.95,230.70 L150.45,230.71 L150.94,230.71 L151.43,230.71 L151.93,230.71 L152.42,230.71 L152.91,230.71 L153.40,230.72 L153.90,230.72 L154.39,230.72 L154.88,230.72 L155.37,230.73 L155.87,230.73 L156.36,230.73 L156.85,230.73 L157.35,230.74 L157.84,230.74 L158.33,230.74 L158.82,230.75 L159.32,230.75 L159.81,230.75 L160.30,230.76 L160.79,230.76 L161.29,230.76 L161.78,230.76 L162.27,230.77 L162.77,230.77 L163.26,230.77 L163.75,230.78 L164.24,230.78 L164.74,230.78 L165.23,230.78 L165.72,230.78 L166.21,230.79 L166.71,230.79 L167.20,230.79 L167.69,230.79 L168.19,230.79 L168.68,230.80 L169.17,230.80 L169.66,230.80 L170.16,230.80 L170.65,230.80 L171.14,230.80 L171.63,230.80 L172.13,230.80 L172.62,230.80 L173.11,230.80 L173.61,230.80 L174.10,230.80 L174.59,230.80 L175.08,230.80 L175.58,230.80 L176.07,230.80 L176.56,230.80 L177.05,230.80 L177.55,230.80 L178.04,230.80 L178.53,230.80 L179.03,230.80 L179.52,230.80 L180.01,230.80 L180.50,230.80 L181.00,230.80 L181.49,230.80 L181.98,230.80 L182.47,230.80 L182.97,230.80 L183.46,230.80 L183.95,230.80 L184.45,230.80 L184.94,230.80 L185.43,230.80 L185.92,230.80 L186.42,230.80 L186.91,230.80 L187.40,230.80 L187.89,230.80 L188.39,230.80 L188.88,230.80 L189.37,230.80 L189.87,230.80 L190.36,230.80 L190.85,230.80 L191.34,230.80 L191.84,230.80 L192.33,230.80 L192.82,230.80 L193.31,230.80 L193.81,230.80 L194.30,230.80 L194.79,230.80 L195.29,230.80 L195.78,230.80 L196.27,230.80 L196.76,230.81 L197.26,230.85 L197.75,230.93 L198.24,231.07 L198.74,231.30 L199.23,231.59 L199.72,231.93 L200.21,232.33 L200.71,232.79 L201.20,233.32 L201.69,233.92 L202.18,234.59 L202.68,235.33 L203.17,236.14 L203.66,237.03 L204.16,238.02 L204.65,239.08 L205.14,240.21 L205.63,241.39 L206.13,242.60 L206.62,243.85 L207.11,245.14 L207.60,246.45 L208.10,247.79 L208.59,249.15 L209.08,250.51 L209.58,251.87 L210.07,253.23 L210.56,254.59 L211.05,255.96 L211.55,257.34 L212.04,258.72 L212.53,260.13 L213.02,261.56 L213.52,263.02 L214.01,264.48 L214.50,265.93 L215.00,267.33 L215.49,268.65 L215.98,269.88 L216.47,271.00 L216.97,272.03 L217.46,272.99 L217.95,273.89 L218.44,274.74 L218.94,275.55 L219.43,276.31 L219.92,277.02 L220.42,277.69 L220.91,278.33 L221.40,278.92 L221.89,279.48 L222.39,280.00 L222.88,280.49 L223.37,280.96 L223.86,281.39 L224.36,281.79 L224.85,282.15 L225.34,282.46 L225.84,282.71 L226.33,282.88 L226.82,282.97 L227.31,282.99 L227.81,282.95 L228.30,282.87 L228.79,282.75 L229.28,282.62 L229.78,282.46 L230.27,282.27 L230.76,282.06 L231.26,281.84 L231.75,281.60 L232.24,281.36 L232.73,281.10 L233.23,280.83 L233.72,280.55 L234.21,280.26 L234.70,279.95 L235.20,279.64 L235.69,279.32 L236.18,279.00 L236.68,278.68 L237.17,278.36 L237.66,278.04 L238.15,277.72 L238.65,277.39 L239.14,277.06 L239.63,276.72 L240.13,276.37 L240.62,276.03 L241.11,275.70 L241.60,275.38 L242.10,275.08 L242.59,274.80 L243.08,274.54 L243.57,274.30 L244.07,274.07 L244.56,273.86 L245.05,273.65 L245.55,273.46 L246.04,273.28 L246.53,273.11 L247.02,272.94 L247.52,272.80 L248.01,272.66 L248.50,272.53 L248.99,272.41 L249.49,272.29 L249.98,272.19 L250.47,272.09 L250.97,272.00 L251.46,271.91 L251.95,271.83 L252.44,271.76 L252.94,271.69 L253.43,271.63 L253.92,271.57 L254.41,271.51 L254.91,271.46 L255.40,271.42" stroke="#ff7f0e"/>
<path d="M48.45,256.25 L48.94,256.38 L49.44,256.49 L49.93,256.56 L50.42,256.59 L50.91,256.57 L51.41,256.52 L51.90,256.44 L52.39,256.31 L52.88,256.12 L53.38,255.84 L53.87,255.45 L54.36,254.93 L54.86,254.32 L55.35,253.64 L55.84,252.89 L56.33,252.08 L56.83,251.23 L57.32,250.34 L57.81,249.43 L58.30,248.49 L58.80,247.50 L59.29,246.44 L59.78,245.31 L60.28,244.08 L60.77,242.80 L61.26,241.47 L61.75,240.12 L62.25,238.78 L62.74,237.45 L63.23,236.16 L63.72,234.92 L64.22,233.74 L64.71,232.63 L65.20,231.58 L65.70,230.61 L66.19,229.71 L66.68,228.88 L67.17,228.12 L67.67,227.43 L68.16,226.80 L68.65,226.24 L69.15,225.75 L69.64,225.31 L70.13,224.92 L70.62,224.57 L71.12,224.25 L71.61,223.97 L72.10,223.72 L72.59,223.50 L73.09,223.31 L73.58,223.14 L74.07,223.00 L74.57,222.88 L75.06,222.78 L75.55,222.70 L76.04,222.64 L76.54,222.59 L77.03,222.56 L77.52,222.54 L78.01,222.54 L78.51,222.56 L79.00,222.59 L79.49,222.63 L79.99,222.69 L80.48,222.75 L80.97,222.81 L81.46,222.88 L81.96,222.96 L82.45,223.04 L82.94,223.13 L83.43,223.23 L83.93,223.34 L84.42,223.46 L84.91,223.60 L85.41,223.76 L85.90,223.92 L86.39,224.09 L86.88,224.27 L87.38,224.45 L87.87,224.64 L88.36,224.82 L88.85,225.00 L89.35,225.17 L89.84,225.34 L90.33,225.51 L90.83,225.67 L91.32,225.83 L91.81,225.99 L92.30,226.15 L92.80,226.31 L93.29,226.47 L93.78,226.62 L94.27,226.78 L94.77,226.93 L95.26,227.08 L95.75,227.22 L96.25,227.35 L96.74,227.47 L97.23,227.59 L97.72,227.70 L98.22,227.81 L98.71,227.91 L99.20,228.02 L99.69,228.12 L100.19,228.22 L100.68,228.31 L101.17,228.40 L101.67,228.48 L102.16,228.55 L102.65,228.60 L103.14,228.65 L103.64,228.67 L104.13,228.69 L104.62,228.70 L105.11,228.70 L105.61,228.70 L106.10,228.70 L106.59,228.69 L107.09,228.69 L107.58,228.68 L108.07,228.68 L108.56,228.67 L109.06,228.66 L109.55,228.65 L110.04,228.65 L110.53,228.64 L111.03,228.63 L111.52,228.62 L112.01,228.61 L112.51,228.60 L113.00,228.59 L113.49,228.58 L113.98,228.57 L114.48,228.55 L114.97,228.54 L115.46,228.52 L115.96,228.50 L116.45,228.48 L116.94,228.46 L117.43,228.43 L117.93,228.41 L118.42,228.38 L118.91,228.36 L119.40,228.33 L119.90,228.30 L120.39,228.26 L120.88,228.22 L121.38,228.17 L121.87,228.12 L122.36,228.06 L122.85,227.99 L123.35,227.93 L123.84,227.86 L124.33,227.79 L124.82,227.73 L125.32,227.67 L125.81,227.61 L126.30,227.56 L126.80,227.51 L127.29,227.47 L127.78,227.44 L128.27,227.43 L128.77,227.42 L129.26,227.41 L129.75,227.42 L130.24,227.43 L130.74,227.44 L131.23,227.45 L131.72,227.46 L132.22,227.48 L132.71,227.50 L133.20,227.51 L133.69,227.53 L134.19,227.55 L134.68,227.56 L135.17,227.58 L135.66,227.59 L136.16,227.59 L136.65,227.60 L137.14,227.60 L137.64,227.60 L138.13,227.60 L138.62,227.59 L139.11,227.59 L139.61,227.58 L140.10,227.57 L140.59,227.56 L141.08,227.55 L141.58,227.54 L142.07,227.53 L142.56,227.51 L143.06,227.50 L143.55,227.49 L144.04,227.47 L144.53,227.46 L145.03,227.45 L145.52,227.44 L146.01,227.43 L146.50,227.42 L147.00,227.42 L147.49,227.41 L147.98,227.41 L148.48,227.41 L148.97,227.42 L149.46,227.43 L149.95,227.45 L150.45,227.47 L150.94,227.50 L151.43,227.53 L151.93,227.57 L152.42,227.61 L152.91,227.64 L153.40,227.68 L153.90,227.72 L154.39,227.76 L154.88,227.80 L155.37,227.83 L155.87,227.86 L156.36,227.88 L156.85,227.90 L157.35,227.92 L157.84,227.93 L158.33,227.94 L158.82,227.96 L159.32,227.97 L159.81,227.98 L160.30,227.99 L160.79,228.00 L161.29,228.00 L161.78,228.01 L162.27,228.02 L162.77,228.03 L163.26,228.04 L163.75,228.05 L164.24,228.05 L164.74,228.06 L165.23,228.07 L165.72,228.08 L166.21,228.09 L166.71,228.11 L167.20,228.12 L167.69,228.13 L168.19,228.15 L168.68,228.17 L169.17,228.19 L169.66,228.21 L170.16,228.22 L170.65,228.24 L171.14,228.26 L171.63,228.28 L172.13,228.30 L172.62,228.32 L173.11,228.34 L173.61,228.35 L174.10,228.37 L174.59,228.38 L175.08,228.39 L175.58,228.39 L176.07,228.40 L176.56,228.40 L177.05,228.39 L177.55,228.38 L178.04,228.37 L178.53,228.35 L179.03,228.33 L179.52,228.30 L180.01,228.26 L180.50,228.23 L181.00,228.19 L181.49,228.14 L181.98,228.10 L182.47,228.05 L182.97,228.00 L183.46,227.95 L183.95,227.89 L184.45,227.81 L184.94,227.72 L185.43,227.62 L185.92,227.51 L186.42,227.41 L186.91,227.33 L187.40,227.27 L187.89,227.24 L188.39,227.23 L188.88,227.23 L189.37,227.24 L189.87,227.26 L190.36,227.28 L190.85,227.30 L191.34,227.33 L191.84,227.35 L192.33,227.38 L192.82,227.41 L193.31,227.44 L193.81,227.48 L194.30,227.52 L194.79,227.56 L195.29,227.60 L195.78,227.64 L196.27,227.67 L196.76,227.70 L197.26,227.75 L197.75,227.84 L198.24,228.00 L198.74,228.24 L199.23,228.55 L199.72,228.92 L200.21,229.34 L200.71,229.84 L201.20,230.40 L201.69,231.04 L202.18,231.75 L202.68,232.54 L203.17,233.41 L203.66,234.37 L204.16,235.42 L204.65,236.56 L205.14,237.77 L205.63,239.03 L206.13,240.32 L206.62,241.66 L207.11,243.03 L207.60,244.43 L208.10,245.87 L208.59,247.32 L209.08,248.77 L209.58,250.22 L210.07,251.68 L210.56,253.14 L211.05,254.60 L211.55,256.07 L212.04,257.55 L212.53,259.05 L213.02,260.58 L213.52,262.13 L214.01,263.70 L214.50,265.25 L215.00,266.75 L215.49,268.16 L215.98,269.47 L216.47,270.67 L216.97,271.77 L217.46,272.80 L217.95,273.76 L218.44,274.67 L218.94,275.53 L219.43,276.34 L219.92,277.10 L220.42,277.82 L220.91,278.50 L221.40,279.13 L221.89,279.73 L222.39,280.29 L222.88,280.81 L223.37,281.31 L223.86,281.77 L224.36,282.20 L224.85,282.59 L225.34,282.92 L225.84,283.18 L226.33,283.37 L226.82,283.47 L227.31,283.49 L227.81,283.44 L228.30,283.36 L228.79,283.24 L229.28,283.10 L229.78,282.93 L230.27,282.73 L230.76,282.52 L231.26,282.29 L231.75,282.04 L232.24,281.78 L232.73,281.52 L233.23,281.23 L233.72,280.94 L234.21,280.63 L234.70,280.32 L235.20,279.99 L235.69,279.66 L236.18,279.33 L236.68,278.99 L237.17,278.66 L237.66,278.32 L238.15,277.99 L238.65,277.64 L239.14,277.30 L239.63,276.94 L240.13,276.59 L240.62,276.23 L241.11,275.88 L241.60,275.55 L242.10,275.24 L242.59,274.94 L243.08,274.67 L243.57,274.42 L244.07,274.18 L244.56,273.96 L245.05,273.75 L245.55,273.55 L246.04,273.36 L246.53,273.18 L247.02,273.01 L247.52,272.85 L248.01,272.71 L248.50,272.57 L248.99,272.45 L249.49,272.33 L249.98,272.22 L250.47,272.12 L250.97,272.02 L251.46,271.93 L251.95,271.85 L252.44,271.77 L252.94,271.70 L253.43,271.64 L253.92,271.57 L254.41,271.52 L254.91,271.47 L255.40,271.42" stroke="#2ca02c"/>
</g>
<path d="M48.45,290.0 V170.3 H255.39999999999998 V290.0 M48.03,290.0 H255.82" fill="none" stroke="#1a1a1a" stroke-width="0.85" stroke-linejoin="miter"/>
<text transform="translate(151.93 163.85) scale(0.9483 1)" font-size="12.0" text-anchor="middle">Adaptation Strength = 2</text>
<text transform="translate(48.45 306.80) scale(0.9167 1)" font-size="12.0" text-anchor="middle">0</text>
<text transform="translate(78.01 306.80) scale(0.9167 1)" font-size="12.0" text-anchor="middle">6</text>
<text transform="translate(107.58 306.80) scale(0.9167 1)" font-size="12.0" text-anchor="middle">12</text>
<text transform="translate(137.14 306.80) scale(0.9167 1)" font-size="12.0" text-anchor="middle">18</text>
<text transform="translate(166.71 306.80) scale(0.9167 1)" font-size="12.0" text-anchor="middle">24</text>
<text transform="translate(196.27 306.80) scale(0.9167 1)" font-size="12.0" text-anchor="middle">30</text>
<text transform="translate(225.84 306.80) scale(0.9167 1)" font-size="12.0" text-anchor="middle">36</text>
<text transform="translate(255.40 306.80) scale(0.9167 1)" font-size="12.0" text-anchor="middle">42</text>
<text transform="translate(8.75 230.05) rotate(-90)" text-anchor="middle" font-size="11.25">BOLD</text>
<clipPath id="c3"><rect x="276.55" y="170.3" width="206.95" height="119.5"/></clipPath>
<line x1="280.40" y1="280.40" x2="483.50" y2="280.40" stroke="#707070" stroke-width="1.15" stroke-dasharray="1.2 3.055"/>
<line x1="274.15" y1="280.40" x2="276.55" y2="280.40" stroke="#1a1a1a" stroke-width="0.95"/>
<line x1="280.40" y1="255.45" x2="483.50" y2="255.45" stroke="#707070" stroke-width="1.15" stroke-dasharray="1.2 3.055"/>
<line x1="274.15" y1="255.45" x2="276.55" y2="255.45" stroke="#1a1a1a" stroke-width="0.95"/>
<line x1="280.40" y1="230.50" x2="483.50" y2="230.50" stroke="#707070" stroke-width="1.15" stroke-dasharray="1.2 3.055"/>
<line x1="274.15" y1="230.50" x2="276.55" y2="230.50" stroke="#1a1a1a" stroke-width="0.95"/>
<line x1="280.40" y1="205.55" x2="483.50" y2="205.55" stroke="#707070" stroke-width="1.15" stroke-dasharray="1.2 3.055"/>
<line x1="274.15" y1="205.55" x2="276.55" y2="205.55" stroke="#1a1a1a" stroke-width="0.95"/>
<line x1="280.40" y1="180.60" x2="483.50" y2="180.60" stroke="#707070" stroke-width="1.15" stroke-dasharray="1.2 3.055"/>
<line x1="274.15" y1="180.60" x2="276.55" y2="180.60" stroke="#1a1a1a" stroke-width="0.95"/>
<g clip-path="url(#c3)" fill="none" stroke-width="1.5" stroke-linejoin="round" stroke-linecap="butt">
<path d="M276.55,258.84 L277.04,259.05 L277.54,259.22 L278.03,259.32 L278.52,259.36 L279.01,259.33 L279.51,259.26 L280.00,259.14 L280.49,258.96 L280.98,258.71 L281.48,258.36 L281.97,257.91 L282.46,257.40 L282.96,256.84 L283.45,256.24 L283.94,255.61 L284.43,254.95 L284.93,254.26 L285.42,253.55 L285.91,252.78 L286.40,251.95 L286.90,251.06 L287.39,250.11 L287.88,249.12 L288.38,248.12 L288.87,247.13 L289.36,246.15 L289.85,245.22 L290.35,244.33 L290.84,243.50 L291.33,242.73 L291.82,242.02 L292.32,241.37 L292.81,240.79 L293.30,240.26 L293.80,239.79 L294.29,239.37 L294.78,239.01 L295.27,238.69 L295.77,238.41 L296.26,238.17 L296.75,237.96 L297.25,237.77 L297.74,237.61 L298.23,237.47 L298.72,237.35 L299.22,237.25 L299.71,237.18 L300.20,237.11 L300.69,237.07 L301.19,237.03 L301.68,237.01 L302.17,237.01 L302.67,237.03 L303.16,237.06 L303.65,237.11 L304.14,237.17 L304.64,237.25 L305.13,237.33 L305.62,237.41 L306.11,237.50 L306.61,237.60 L307.10,237.69 L307.59,237.79 L308.09,237.89 L308.58,238.00 L309.07,238.12 L309.56,238.25 L310.06,238.38 L310.55,238.52 L311.04,238.66 L311.53,238.81 L312.03,238.96 L312.52,239.10 L313.01,239.25 L313.51,239.40 L314.00,239.54 L314.49,239.68 L314.98,239.82 L315.48,239.96 L315.97,240.11 L316.46,240.25 L316.95,240.40 L317.45,240.55 L317.94,240.69 L318.43,240.84 L318.93,240.98 L319.42,241.11 L319.91,241.24 L320.40,241.36 L320.90,241.47 L321.39,241.57 L321.88,241.67 L322.37,241.76 L322.87,241.85 L323.36,241.94 L323.85,242.03 L324.35,242.11 L324.84,242.20 L325.33,242.28 L325.82,242.36 L326.32,242.44 L326.81,242.51 L327.30,242.58 L327.79,242.65 L328.29,242.71 L328.78,242.77 L329.27,242.82 L329.77,242.86 L330.26,242.90 L330.75,242.92 L331.24,242.95 L331.74,242.96 L332.23,242.97 L332.72,242.97 L333.21,242.97 L333.71,242.96 L334.20,242.96 L334.69,242.95 L335.19,242.94 L335.68,242.93 L336.17,242.92 L336.66,242.90 L337.16,242.89 L337.65,242.88 L338.14,242.86 L338.63,242.84 L339.13,242.83 L339.62,242.81 L340.11,242.79 L340.61,242.77 L341.10,242.75 L341.59,242.72 L342.08,242.69 L342.58,242.66 L343.07,242.62 L343.56,242.58 L344.06,242.54 L344.55,242.50 L345.04,242.46 L345.53,242.42 L346.03,242.38 L346.52,242.35 L347.01,242.32 L347.50,242.30 L348.00,242.28 L348.49,242.26 L348.98,242.25 L349.48,242.24 L349.97,242.22 L350.46,242.21 L350.95,242.20 L351.45,242.19 L351.94,242.18 L352.43,242.17 L352.92,242.16 L353.42,242.15 L353.91,242.14 L354.40,242.13 L354.90,242.12 L355.39,242.12 L355.88,242.11 L356.37,242.10 L356.87,242.10 L357.36,242.09 L357.85,242.09 L358.34,242.08 L358.84,242.08 L359.33,242.08 L359.82,242.08 L360.32,242.08 L360.81,242.08 L361.30,242.08 L361.79,242.08 L362.29,242.08 L362.78,242.08 L363.27,242.08 L363.76,242.08 L364.26,242.08 L364.75,242.08 L365.24,242.08 L365.74,242.08 L366.23,242.08 L366.72,242.08 L367.21,242.08 L367.71,242.08 L368.20,242.08 L368.69,242.08 L369.18,242.08 L369.68,242.08 L370.17,242.08 L370.66,242.08 L371.16,242.08 L371.65,242.08 L372.14,242.08 L372.63,242.08 L373.13,242.08 L373.62,242.08 L374.11,242.08 L374.60,242.08 L375.10,242.08 L375.59,242.08 L376.08,242.08 L376.58,242.08 L377.07,242.08 L377.56,242.08 L378.05,242.08 L378.55,242.08 L379.04,242.08 L379.53,242.08 L380.02,242.08 L380.52,242.08 L381.01,242.08 L381.50,242.08 L382.00,242.08 L382.49,242.08 L382.98,242.08 L383.47,242.08 L383.97,242.08 L384.46,242.08 L384.95,242.08 L385.45,242.08 L385.94,242.08 L386.43,242.08 L386.92,242.08 L387.42,242.08 L387.91,242.08 L388.40,242.08 L388.89,242.08 L389.39,242.08 L389.88,242.08 L390.37,242.08 L390.87,242.08 L391.36,242.08 L391.85,242.08 L392.34,242.08 L392.84,242.08 L393.33,242.08 L393.82,242.08 L394.31,242.08 L394.81,242.08 L395.30,242.08 L395.79,242.08 L396.29,242.08 L396.78,242.08 L397.27,242.08 L397.76,242.08 L398.26,242.08 L398.75,242.08 L399.24,242.08 L399.73,242.08 L400.23,242.08 L400.72,242.08 L401.21,242.08 L401.71,242.08 L402.20,242.08 L402.69,242.08 L403.18,242.08 L403.68,242.08 L404.17,242.08 L404.66,242.08 L405.15,242.08 L405.65,242.08 L406.14,242.08 L406.63,242.08 L407.13,242.08 L407.62,242.08 L408.11,242.08 L408.60,242.08 L409.10,242.08 L409.59,242.08 L410.08,242.08 L410.57,242.08 L411.07,242.08 L411.56,242.08 L412.05,242.08 L412.55,242.08 L413.04,242.08 L413.53,242.08 L414.02,242.08 L414.52,242.08 L415.01,242.08 L415.50,242.08 L415.99,242.08 L416.49,242.08 L416.98,242.08 L417.47,242.08 L417.97,242.08 L418.46,242.08 L418.95,242.08 L419.44,242.08 L419.94,242.08 L420.43,242.08 L420.92,242.08 L421.41,242.08 L421.91,242.08 L422.40,242.08 L422.89,242.08 L423.39,242.08 L423.88,242.08 L424.37,242.08 L424.86,242.09 L425.36,242.12 L425.85,242.18 L426.34,242.31 L426.84,242.49 L427.33,242.73 L427.82,243.02 L428.31,243.36 L428.81,243.74 L429.30,244.18 L429.79,244.68 L430.28,245.24 L430.78,245.85 L431.27,246.53 L431.76,247.28 L432.26,248.10 L432.75,248.98 L433.24,249.93 L433.73,250.91 L434.23,251.92 L434.72,252.96 L435.21,254.03 L435.70,255.13 L436.20,256.25 L436.69,257.38 L437.18,258.51 L437.68,259.65 L438.17,260.78 L438.66,261.92 L439.15,263.06 L439.65,264.21 L440.14,265.36 L440.63,266.54 L441.12,267.73 L441.62,268.94 L442.11,270.17 L442.60,271.37 L443.10,272.54 L443.59,273.65 L444.08,274.67 L444.57,275.60 L445.07,276.46 L445.56,277.26 L446.05,278.02 L446.54,278.73 L447.04,279.40 L447.53,280.03 L448.02,280.62 L448.52,281.18 L449.01,281.70 L449.50,282.18 L449.99,282.63 L450.49,283.06 L450.98,283.48 L451.47,283.90 L451.96,284.31 L452.46,284.70 L452.95,285.05 L453.44,285.32 L453.94,285.50 L454.43,285.59 L454.92,285.60 L455.41,285.56 L455.91,285.49 L456.40,285.39 L456.89,285.26 L457.38,285.12 L457.88,284.95 L458.37,284.77 L458.86,284.57 L459.36,284.37 L459.85,284.16 L460.34,283.94 L460.83,283.72 L461.33,283.49 L461.82,283.25 L462.31,283.00 L462.81,282.75 L463.30,282.50 L463.79,282.24 L464.28,281.98 L464.78,281.71 L465.27,281.45 L465.76,281.18 L466.25,280.90 L466.75,280.62 L467.24,280.33 L467.73,280.03 L468.23,279.73 L468.72,279.42 L469.21,279.13 L469.70,278.84 L470.20,278.57 L470.69,278.32 L471.18,278.08 L471.67,277.87 L472.17,277.67 L472.66,277.48 L473.15,277.30 L473.65,277.13 L474.14,276.96 L474.63,276.81 L475.12,276.67 L475.62,276.53 L476.11,276.41 L476.60,276.30 L477.09,276.19 L477.59,276.09 L478.08,275.99 L478.57,275.91 L479.07,275.83 L479.56,275.75 L480.05,275.68 L480.54,275.61 L481.04,275.55 L481.53,275.50 L482.02,275.44 L482.51,275.40 L483.01,275.35 L483.50,275.31" stroke="#1f77b4"/>
<path d="M276.55,258.84 L277.04,259.06 L277.54,259.23 L278.03,259.32 L278.52,259.34 L279.01,259.29 L279.51,259.18 L280.00,259.02 L280.49,258.76 L280.98,258.40 L281.48,257.93 L281.97,257.36 L282.46,256.71 L282.96,256.01 L283.45,255.26 L283.94,254.47 L284.43,253.66 L284.93,252.80 L285.42,251.89 L285.91,250.91 L286.40,249.85 L286.90,248.71 L287.39,247.53 L287.88,246.33 L288.38,245.13 L288.87,243.96 L289.36,242.83 L289.85,241.76 L290.35,240.77 L290.84,239.84 L291.33,238.99 L291.82,238.21 L292.32,237.51 L292.81,236.88 L293.30,236.32 L293.80,235.83 L294.29,235.41 L294.78,235.03 L295.27,234.71 L295.77,234.42 L296.26,234.17 L296.75,233.96 L297.25,233.77 L297.74,233.61 L298.23,233.48 L298.72,233.37 L299.22,233.29 L299.71,233.22 L300.20,233.17 L300.69,233.14 L301.19,233.12 L301.68,233.13 L302.17,233.15 L302.67,233.18 L303.16,233.23 L303.65,233.29 L304.14,233.36 L304.64,233.44 L305.13,233.53 L305.62,233.61 L306.11,233.71 L306.61,233.80 L307.10,233.90 L307.59,234.01 L308.09,234.14 L308.58,234.27 L309.07,234.42 L309.56,234.57 L310.06,234.74 L310.55,234.91 L311.04,235.09 L311.53,235.27 L312.03,235.45 L312.52,235.63 L313.01,235.81 L313.51,235.99 L314.00,236.17 L314.49,236.36 L314.98,236.55 L315.48,236.75 L315.97,236.95 L316.46,237.15 L316.95,237.36 L317.45,237.55 L317.94,237.75 L318.43,237.93 L318.93,238.11 L319.42,238.27 L319.91,238.42 L320.40,238.55 L320.90,238.67 L321.39,238.78 L321.88,238.89 L322.37,238.99 L322.87,239.09 L323.36,239.19 L323.85,239.29 L324.35,239.38 L324.84,239.48 L325.33,239.57 L325.82,239.65 L326.32,239.73 L326.81,239.81 L327.30,239.88 L327.79,239.95 L328.29,240.02 L328.78,240.07 L329.27,240.12 L329.77,240.17 L330.26,240.20 L330.75,240.23 L331.24,240.25 L331.74,240.27 L332.23,240.27 L332.72,240.27 L333.21,240.27 L333.71,240.26 L334.20,240.25 L334.69,240.24 L335.19,240.23 L335.68,240.21 L336.17,240.19 L336.66,240.17 L337.16,240.15 L337.65,240.13 L338.14,240.10 L338.63,240.08 L339.13,240.06 L339.62,240.03 L340.11,240.00 L340.61,239.98 L341.10,239.95 L341.59,239.91 L342.08,239.88 L342.58,239.83 L343.07,239.79 L343.56,239.74 L344.06,239.70 L344.55,239.65 L345.04,239.60 L345.53,239.56 L346.03,239.51 L346.52,239.48 L347.01,239.44 L347.50,239.41 L348.00,239.39 L348.49,239.36 L348.98,239.34 L349.48,239.33 L349.97,239.31 L350.46,239.29 L350.95,239.27 L351.45,239.26 L351.94,239.24 L352.43,239.22 L352.92,239.21 L353.42,239.19 L353.91,239.18 L354.40,239.17 L354.90,239.15 L355.39,239.14 L355.88,239.13 L356.37,239.12 L356.87,239.11 L357.36,239.11 L357.85,239.10 L358.34,239.09 L358.84,239.09 L359.33,239.09 L359.82,239.08 L360.32,239.08 L360.81,239.08 L361.30,239.08 L361.79,239.08 L362.29,239.08 L362.78,239.08 L363.27,239.08 L363.76,239.08 L364.26,239.08 L364.75,239.08 L365.24,239.08 L365.74,239.08 L366.23,239.08 L366.72,239.08 L367.21,239.08 L367.71,239.08 L368.20,239.08 L368.69,239.08 L369.18,239.08 L369.68,239.08 L370.17,239.08 L370.66,239.08 L371.16,239.08 L371.65,239.08 L372.14,239.08 L372.63,239.08 L373.13,239.08 L373.62,239.08 L374.11,239.08 L374.60,239.08 L375.10,239.08 L375.59,239.08 L376.08,239.08 L376.58,239.08 L377.07,239.08 L377.56,239.08 L378.05,239.08 L378.55,239.08 L379.04,239.08 L379.53,239.08 L380.02,239.08 L380.52,239.08 L381.01,239.08 L381.50,239.08 L382.00,239.08 L382.49,239.08 L382.98,239.08 L383.47,239.08 L383.97,239.08 L384.46,239.08 L384.95,239.08 L385.45,239.08 L385.94,239.08 L386.43,239.08 L386.92,239.08 L387.42,239.08 L387.91,239.08 L388.40,239.08 L388.89,239.08 L389.39,239.08 L389.88,239.08 L390.37,239.08 L390.87,239.08 L391.36,239.08 L391.85,239.08 L392.34,239.08 L392.84,239.08 L393.33,239.08 L393.82,239.08 L394.31,239.08 L394.81,239.08 L395.30,239.08 L395.79,239.08 L396.29,239.08 L396.78,239.08 L397.27,239.08 L397.76,239.08 L398.26,239.08 L398.75,239.08 L399.24,239.08 L399.73,239.08 L400.23,239.08 L400.72,239.08 L401.21,239.08 L401.71,239.08 L402.20,239.08 L402.69,239.08 L403.18,239.08 L403.68,239.08 L404.17,239.08 L404.66,239.08 L405.15,239.08 L405.65,239.08 L406.14,239.08 L406.63,239.08 L407.13,239.08 L407.62,239.08 L408.11,239.08 L408.60,239.08 L409.10,239.08 L409.59,239.08 L410.08,239.08 L410.57,239.08 L411.07,239.08 L411.56,239.08 L412.05,239.08 L412.55,239.08 L413.04,239.08 L413.53,239.08 L414.02,239.08 L414.52,239.08 L415.01,239.08 L415.50,239.08 L415.99,239.08 L416.49,239.08 L416.98,239.08 L417.47,239.08 L417.97,239.08 L418.46,239.08 L418.95,239.08 L419.44,239.08 L419.94,239.08 L420.43,239.08 L420.92,239.08 L421.41,239.08 L421.91,239.08 L422.40,239.08 L422.89,239.08 L423.39,239.08 L423.88,239.08 L424.37,239.09 L424.86,239.10 L425.36,239.13 L425.85,239.20 L426.34,239.33 L426.84,239.53 L427.33,239.79 L427.82,240.11 L428.31,240.47 L428.81,240.88 L429.30,241.36 L429.79,241.90 L430.28,242.50 L430.78,243.17 L431.27,243.90 L431.76,244.71 L432.26,245.60 L432.75,246.56 L433.24,247.58 L433.73,248.64 L434.23,249.74 L434.72,250.87 L435.21,252.02 L435.70,253.21 L436.20,254.42 L436.69,255.65 L437.18,256.87 L437.68,258.10 L438.17,259.33 L438.66,260.56 L439.15,261.80 L439.65,263.04 L440.14,264.29 L440.63,265.56 L441.12,266.85 L441.62,268.16 L442.11,269.49 L442.60,270.79 L443.10,272.06 L443.59,273.25 L444.08,274.36 L444.57,275.37 L445.07,276.30 L445.56,277.17 L446.05,277.98 L446.54,278.75 L447.04,279.48 L447.53,280.16 L448.02,280.80 L448.52,281.41 L449.01,281.97 L449.50,282.49 L449.99,282.98 L450.49,283.45 L450.98,283.90 L451.47,284.35 L451.96,284.79 L452.46,285.22 L452.95,285.60 L453.44,285.89 L453.94,286.08 L454.43,286.18 L454.92,286.19 L455.41,286.15 L455.91,286.07 L456.40,285.97 L456.89,285.84 L457.38,285.69 L457.88,285.51 L458.37,285.32 L458.86,285.11 L459.36,284.89 L459.85,284.67 L460.34,284.44 L460.83,284.20 L461.33,283.96 L461.82,283.71 L462.31,283.45 L462.81,283.18 L463.30,282.91 L463.79,282.64 L464.28,282.36 L464.78,282.08 L465.27,281.80 L465.76,281.52 L466.25,281.23 L466.75,280.93 L467.24,280.62 L467.73,280.30 L468.23,279.98 L468.72,279.66 L469.21,279.35 L469.70,279.04 L470.20,278.76 L470.69,278.49 L471.18,278.24 L471.67,278.02 L472.17,277.80 L472.66,277.60 L473.15,277.41 L473.65,277.23 L474.14,277.06 L474.63,276.90 L475.12,276.75 L475.62,276.61 L476.11,276.47 L476.60,276.35 L477.09,276.24 L477.59,276.13 L478.08,276.03 L478.57,275.94 L479.07,275.85 L479.56,275.77 L480.05,275.70 L480.54,275.63 L481.04,275.57 L481.53,275.51 L482.02,275.45 L482.51,275.40 L483.01,275.35 L483.50,275.31" stroke="#ff7f0e"/>
<path d="M276.55,258.84 L277.04,259.03 L277.54,259.19 L278.03,259.30 L278.52,259.37 L279.01,259.38 L279.51,259.35 L280.00,259.28 L280.49,259.19 L280.98,259.04 L281.48,258.84 L281.97,258.54 L282.46,258.13 L282.96,257.61 L283.45,257.01 L283.94,256.35 L284.43,255.64 L284.93,254.89 L285.42,254.10 L285.91,253.29 L286.40,252.45 L286.90,251.57 L287.39,250.63 L287.88,249.62 L288.38,248.53 L288.87,247.38 L289.36,246.18 L289.85,244.97 L290.35,243.76 L290.84,242.56 L291.33,241.40 L291.82,240.29 L292.32,239.24 L292.81,238.25 L293.30,237.33 L293.80,236.47 L294.29,235.68 L294.78,234.96 L295.27,234.31 L295.77,233.72 L296.26,233.19 L296.75,232.72 L297.25,232.31 L297.74,231.94 L298.23,231.62 L298.72,231.33 L299.22,231.07 L299.71,230.85 L300.20,230.65 L300.69,230.48 L301.19,230.33 L301.68,230.20 L302.17,230.10 L302.67,230.01 L303.16,229.94 L303.65,229.89 L304.14,229.85 L304.64,229.83 L305.13,229.83 L305.62,229.84 L306.11,229.87 L306.61,229.91 L307.10,229.96 L307.59,230.02 L308.09,230.09 L308.58,230.17 L309.07,230.25 L309.56,230.33 L310.06,230.42 L310.55,230.51 L311.04,230.61 L311.53,230.71 L312.03,230.82 L312.52,230.95 L313.01,231.08 L313.51,231.22 L314.00,231.37 L314.49,231.53 L314.98,231.69 L315.48,231.86 L315.97,232.02 L316.46,232.18 L316.95,232.34 L317.45,232.50 L317.94,232.65 L318.43,232.79 L318.93,232.94 L319.42,233.08 L319.91,233.23 L320.40,233.37 L320.90,233.52 L321.39,233.67 L321.88,233.81 L322.37,233.95 L322.87,234.08 L323.36,234.20 L323.85,234.32 L324.35,234.43 L324.84,234.52 L325.33,234.61 L325.82,234.68 L326.32,234.75 L326.81,234.81 L327.30,234.87 L327.79,234.92 L328.29,234.98 L328.78,235.03 L329.27,235.08 L329.77,235.12 L330.26,235.16 L330.75,235.20 L331.24,235.23 L331.74,235.25 L332.23,235.27 L332.72,235.28 L333.21,235.28 L333.71,235.28 L334.20,235.28 L334.69,235.28 L335.19,235.27 L335.68,235.26 L336.17,235.25 L336.66,235.23 L337.16,235.22 L337.65,235.20 L338.14,235.19 L338.63,235.17 L339.13,235.15 L339.62,235.13 L340.11,235.11 L340.61,235.09 L341.10,235.06 L341.59,235.03 L342.08,235.00 L342.58,234.96 L343.07,234.92 L343.56,234.88 L344.06,234.84 L344.55,234.79 L345.04,234.74 L345.53,234.70 L346.03,234.65 L346.52,234.61 L347.01,234.57 L347.50,234.53 L348.00,234.49 L348.49,234.46 L348.98,234.42 L349.48,234.39 L349.97,234.35 L350.46,234.32 L350.95,234.28 L351.45,234.25 L351.94,234.22 L352.43,234.19 L352.92,234.17 L353.42,234.14 L353.91,234.12 L354.40,234.11 L354.90,234.10 L355.39,234.10 L355.88,234.10 L356.37,234.10 L356.87,234.11 L357.36,234.12 L357.85,234.14 L358.34,234.15 L358.84,234.17 L359.33,234.19 L359.82,234.21 L360.32,234.24 L360.81,234.26 L361.30,234.29 L361.79,234.31 L362.29,234.34 L362.78,234.37 L363.27,234.39 L363.76,234.42 L364.26,234.44 L364.75,234.47 L365.24,234.49 L365.74,234.52 L366.23,234.54 L366.72,234.56 L367.21,234.59 L367.71,234.61 L368.20,234.64 L368.69,234.67 L369.18,234.69 L369.68,234.72 L370.17,234.75 L370.66,234.77 L371.16,234.80 L371.65,234.82 L372.14,234.85 L372.63,234.88 L373.13,234.90 L373.62,234.92 L374.11,234.95 L374.60,234.97 L375.10,234.99 L375.59,235.01 L376.08,235.04 L376.58,235.06 L377.07,235.08 L377.56,235.10 L378.05,235.13 L378.55,235.15 L379.04,235.17 L379.53,235.19 L380.02,235.21 L380.52,235.23 L381.01,235.25 L381.50,235.26 L382.00,235.27 L382.49,235.28 L382.98,235.28 L383.47,235.29 L383.97,235.29 L384.46,235.28 L384.95,235.28 L385.45,235.27 L385.94,235.27 L386.43,235.26 L386.92,235.25 L387.42,235.24 L387.91,235.23 L388.40,235.21 L388.89,235.20 L389.39,235.18 L389.88,235.17 L390.37,235.15 L390.87,235.14 L391.36,235.12 L391.85,235.11 L392.34,235.09 L392.84,235.07 L393.33,235.05 L393.82,235.03 L394.31,235.01 L394.81,234.98 L395.30,234.95 L395.79,234.92 L396.29,234.89 L396.78,234.86 L397.27,234.83 L397.76,234.80 L398.26,234.76 L398.75,234.73 L399.24,234.70 L399.73,234.66 L400.23,234.63 L400.72,234.59 L401.21,234.56 L401.71,234.52 L402.20,234.49 L402.69,234.45 L403.18,234.41 L403.68,234.37 L404.17,234.33 L404.66,234.29 L405.15,234.24 L405.65,234.19 L406.14,234.15 L406.63,234.10 L407.13,234.06 L407.62,234.02 L408.11,233.99 L408.60,233.96 L409.10,233.94 L409.59,233.92 L410.08,233.91 L410.57,233.90 L411.07,233.90 L411.56,233.90 L412.05,233.91 L412.55,233.92 L413.04,233.94 L413.53,233.95 L414.02,233.97 L414.52,233.99 L415.01,234.01 L415.50,234.03 L415.99,234.05 L416.49,234.07 L416.98,234.10 L417.47,234.13 L417.97,234.16 L418.46,234.20 L418.95,234.25 L419.44,234.30 L419.94,234.35 L420.43,234.40 L420.92,234.46 L421.41,234.51 L421.91,234.57 L422.40,234.62 L422.89,234.66 L423.39,234.70 L423.88,234.73 L424.37,234.76 L424.86,234.79 L425.36,234.83 L425.85,234.92 L426.34,235.06 L426.84,235.28 L427.33,235.57 L427.82,235.92 L428.31,236.31 L428.81,236.77 L429.30,237.29 L429.79,237.89 L430.28,238.55 L430.78,239.28 L431.27,240.09 L431.76,240.98 L432.26,241.95 L432.75,243.01 L433.24,244.13 L433.73,245.30 L434.23,246.51 L434.72,247.74 L435.21,249.02 L435.70,250.33 L436.20,251.66 L436.69,253.00 L437.18,254.35 L437.68,255.70 L438.17,257.05 L438.66,258.40 L439.15,259.76 L439.65,261.13 L440.14,262.50 L440.63,263.90 L441.12,265.32 L441.62,266.76 L442.11,268.22 L442.60,269.65 L443.10,271.04 L443.59,272.36 L444.08,273.57 L444.57,274.68 L445.07,275.71 L445.56,276.66 L446.05,277.56 L446.54,278.40 L447.04,279.20 L447.53,279.95 L448.02,280.66 L448.52,281.32 L449.01,281.94 L449.50,282.51 L449.99,283.05 L450.49,283.56 L450.98,284.06 L451.47,284.55 L451.96,285.04 L452.46,285.51 L452.95,285.93 L453.44,286.25 L453.94,286.46 L454.43,286.57 L454.92,286.59 L455.41,286.55 L455.91,286.47 L456.40,286.36 L456.89,286.22 L457.38,286.06 L457.88,285.88 L458.37,285.68 L458.86,285.46 L459.36,285.24 L459.85,285.01 L460.34,284.77 L460.83,284.53 L461.33,284.27 L461.82,284.01 L462.31,283.74 L462.81,283.47 L463.30,283.19 L463.79,282.91 L464.28,282.62 L464.78,282.33 L465.27,282.04 L465.76,281.74 L466.25,281.44 L466.75,281.13 L467.24,280.81 L467.73,280.49 L468.23,280.15 L468.72,279.82 L469.21,279.49 L469.70,279.18 L470.20,278.88 L470.69,278.61 L471.18,278.35 L471.67,278.12 L472.17,277.89 L472.66,277.69 L473.15,277.49 L473.65,277.30 L474.14,277.12 L474.63,276.95 L475.12,276.80 L475.62,276.65 L476.11,276.52 L476.60,276.39 L477.09,276.27 L477.59,276.16 L478.08,276.06 L478.57,275.96 L479.07,275.87 L479.56,275.79 L480.05,275.71 L480.54,275.64 L481.04,275.58 L481.53,275.51 L482.02,275.46 L482.51,275.40 L483.01,275.36 L483.50,275.31" stroke="#2ca02c"/>
</g>
<path d="M276.55,290.0 V170.3 H483.5 V290.0 M276.13,290.0 H483.92" fill="none" stroke="#1a1a1a" stroke-width="0.85" stroke-linejoin="miter"/>
<text transform="translate(380.02 163.85) scale(0.9483 1)" font-size="12.0" text-anchor="middle">Adaptation Strength = 4</text>
<text transform="translate(152.23 320.20) scale(0.9333 1)" font-size="12.0" text-anchor="middle">Time (s)</text>
<rect x="57.9" y="331.3" width="413.3" height="19.8" rx="2" ry="2" fill="#fff" stroke="#d9d9d9" stroke-width="1"/>
<line x1="62.0" y1="340.7" x2="85.8" y2="340.7" stroke="#1f77b4" stroke-width="1.5"/>
<text transform="translate(94.40 344.80) scale(0.9417 1)" font-size="12.0" text-anchor="start">Adapt Coherent</text>
<line x1="205.3" y1="340.7" x2="229.0" y2="340.7" stroke="#ff7f0e" stroke-width="1.5"/>
<text transform="translate(237.40 344.80) scale(0.9417 1)" font-size="12.0" text-anchor="start">Adapt Incoherent</text>
<line x1="357.6" y1="340.7" x2="381.6" y2="340.7" stroke="#2ca02c" stroke-width="1.5"/>
<text transform="translate(390.20 344.80) scale(0.9417 1)" font-size="12.0" text-anchor="start">Non-adapting</text>
<clipPath id="ci"><rect x="511.4" y="115.35" width="168.5" height="88.80000000000001"/></clipPath>
<g clip-path="url(#ci)">
<line x1="631.76" y1="115.35" x2="631.76" y2="204.15" stroke="#cccccc" stroke-width="1" stroke-dasharray="4.5 2"/>
<path d="M511.40,191.70 L517.42,172.60 L523.44,159.00 L529.45,151.40 L535.47,148.36 L541.49,147.30 L547.51,143.68 L553.52,139.84 L559.54,137.50 L565.56,134.60 L571.58,132.10 L577.60,130.40 L583.61,127.30 L589.63,125.10 L595.65,122.66 L601.67,120.96 L607.69,121.16 L613.70,121.20 L619.72,121.04 L625.74,120.20 L631.76,118.16 L637.77,128.40 L643.79,148.60 L649.81,167.40 L655.83,177.90 L661.85,181.80 L667.86,185.10 L673.88,189.00 L679.90,183.70 L679.90,188.50 L673.88,193.80 L667.86,189.90 L661.85,186.60 L655.83,182.70 L649.81,172.20 L643.79,154.60 L637.77,136.80 L631.76,128.24 L625.74,131.00 L619.72,132.56 L613.70,133.20 L607.69,133.64 L601.67,133.44 L595.65,135.14 L589.63,137.10 L583.61,139.30 L577.60,142.40 L571.58,144.10 L565.56,146.60 L559.54,149.50 L553.52,151.36 L547.51,154.72 L541.49,158.10 L535.47,158.44 L529.45,161.00 L523.44,167.40 L517.42,178.60 L511.40,195.30Z" fill="#1f77b4" fill-opacity="0.23" stroke="none"/>
<path d="M511.40,187.70 L517.42,165.00 L523.44,148.80 L529.45,141.20 L535.47,139.78 L541.49,139.28 L547.51,138.80 L553.52,137.26 L559.54,135.30 L565.56,133.34 L571.58,131.88 L577.60,130.10 L583.61,128.92 L589.63,128.26 L595.65,127.40 L601.67,126.50 L607.69,126.20 L613.70,125.20 L619.72,124.44 L625.74,123.68 L631.76,125.92 L637.77,137.00 L643.79,159.50 L649.81,179.80 L655.83,186.40 L661.85,189.00 L667.86,191.30 L673.88,195.20 L679.90,189.00 L679.90,193.80 L673.88,200.00 L667.86,196.10 L661.85,193.80 L655.83,191.20 L649.81,184.60 L643.79,165.50 L637.77,144.20 L631.76,134.08 L625.74,132.32 L619.72,133.56 L613.70,134.80 L607.69,135.80 L601.67,136.10 L595.65,137.00 L589.63,138.34 L583.61,139.48 L577.60,140.90 L571.58,142.92 L565.56,144.86 L559.54,147.30 L553.52,149.74 L547.51,152.00 L541.49,152.72 L535.47,153.22 L529.45,154.40 L523.44,159.60 L517.42,172.20 L511.40,191.30Z" fill="#ff7f0e" fill-opacity="0.23" stroke="none"/>
<path d="M511.40,189.70 L517.42,166.50 L523.44,149.40 L529.45,134.76 L535.47,130.02 L541.49,130.02 L547.51,130.22 L553.52,130.52 L559.54,132.52 L565.56,132.32 L571.58,131.82 L577.60,131.32 L583.61,130.22 L589.63,129.82 L595.65,128.52 L601.67,127.12 L607.69,126.32 L613.70,126.72 L619.72,126.56 L625.74,125.90 L631.76,131.98 L637.77,153.40 L643.79,175.66 L649.81,193.08 L655.83,197.72 L661.85,201.86 L667.86,201.76 L673.88,201.26 L679.90,192.92 L679.90,196.28 L673.88,204.14 L667.86,204.64 L661.85,204.74 L655.83,201.08 L649.81,196.92 L643.79,180.94 L637.77,160.60 L631.76,140.62 L625.74,135.50 L619.72,136.64 L613.70,137.28 L607.69,136.88 L601.67,137.68 L595.65,139.08 L589.63,140.38 L583.61,140.78 L577.60,141.88 L571.58,142.38 L565.56,142.88 L559.54,143.08 L553.52,141.08 L547.51,140.78 L541.49,140.58 L535.47,140.58 L529.45,144.84 L523.44,157.80 L517.42,172.50 L511.40,193.30Z" fill="#2ca02c" fill-opacity="0.23" stroke="none"/>
<path d="M511.40,193.50 L517.42,175.60 L523.44,163.20 L529.45,156.20 L535.47,153.40 L541.49,152.70 L547.51,149.20 L553.52,145.60 L559.54,143.50 L565.56,140.60 L571.58,138.10 L577.60,136.40 L583.61,133.30 L589.63,131.10 L595.65,128.90 L601.67,127.20 L607.69,127.40 L613.70,127.20 L619.72,126.80 L625.74,125.60 L631.76,123.20 L637.77,132.60 L643.79,151.60 L649.81,169.80 L655.83,180.30 L661.85,184.20 L667.86,187.50 L673.88,191.40 L679.90,186.10" fill="none" stroke="#1f77b4" stroke-width="1.65" stroke-linejoin="round"/>
<path d="M511.40,189.50 L517.42,168.60 L523.44,154.20 L529.45,147.80 L535.47,146.50 L541.49,146.00 L547.51,145.40 L553.52,143.50 L559.54,141.30 L565.56,139.10 L571.58,137.40 L577.60,135.50 L583.61,134.20 L589.63,133.30 L595.65,132.20 L601.67,131.30 L607.69,131.00 L613.70,130.00 L619.72,129.00 L625.74,128.00 L631.76,130.00 L637.77,140.60 L643.79,162.50 L649.81,182.20 L655.83,188.80 L661.85,191.40 L667.86,193.70 L673.88,197.60 L679.90,191.40" fill="none" stroke="#ff7f0e" stroke-width="1.65" stroke-linejoin="round"/>
<path d="M511.40,191.50 L517.42,169.50 L523.44,153.60 L529.45,139.80 L535.47,135.30 L541.49,135.30 L547.51,135.50 L553.52,135.80 L559.54,137.80 L565.56,137.60 L571.58,137.10 L577.60,136.60 L583.61,135.50 L589.63,135.10 L595.65,133.80 L601.67,132.40 L607.69,131.60 L613.70,132.00 L619.72,131.60 L625.74,130.70 L631.76,136.30 L637.77,157.00 L643.79,178.30 L649.81,195.00 L655.83,199.40 L661.85,203.30 L667.86,203.20 L673.88,202.70 L679.90,194.60" fill="none" stroke="#2ca02c" stroke-width="1.65" stroke-linejoin="round"/>
</g>
<rect x="511.4" y="115.35" width="168.5" height="88.80000000000001" fill="none" stroke="#bcbcbc" stroke-width="1"/>
<g font-size="9.9" class="inset">
<text x="595.65" y="110.7" text-anchor="middle">Experimental Data</text>
<text x="507.7" y="119.4" text-anchor="end">2</text>
<text x="507.7" y="208.9" text-anchor="end">0</text>
<text x="511.40" y="215.9" text-anchor="middle">0</text>
<text x="631.76" y="215.9" text-anchor="middle">30</text>
<text x="679.90" y="215.9" text-anchor="middle">42</text>
</g>
</svg>
</body></html>
